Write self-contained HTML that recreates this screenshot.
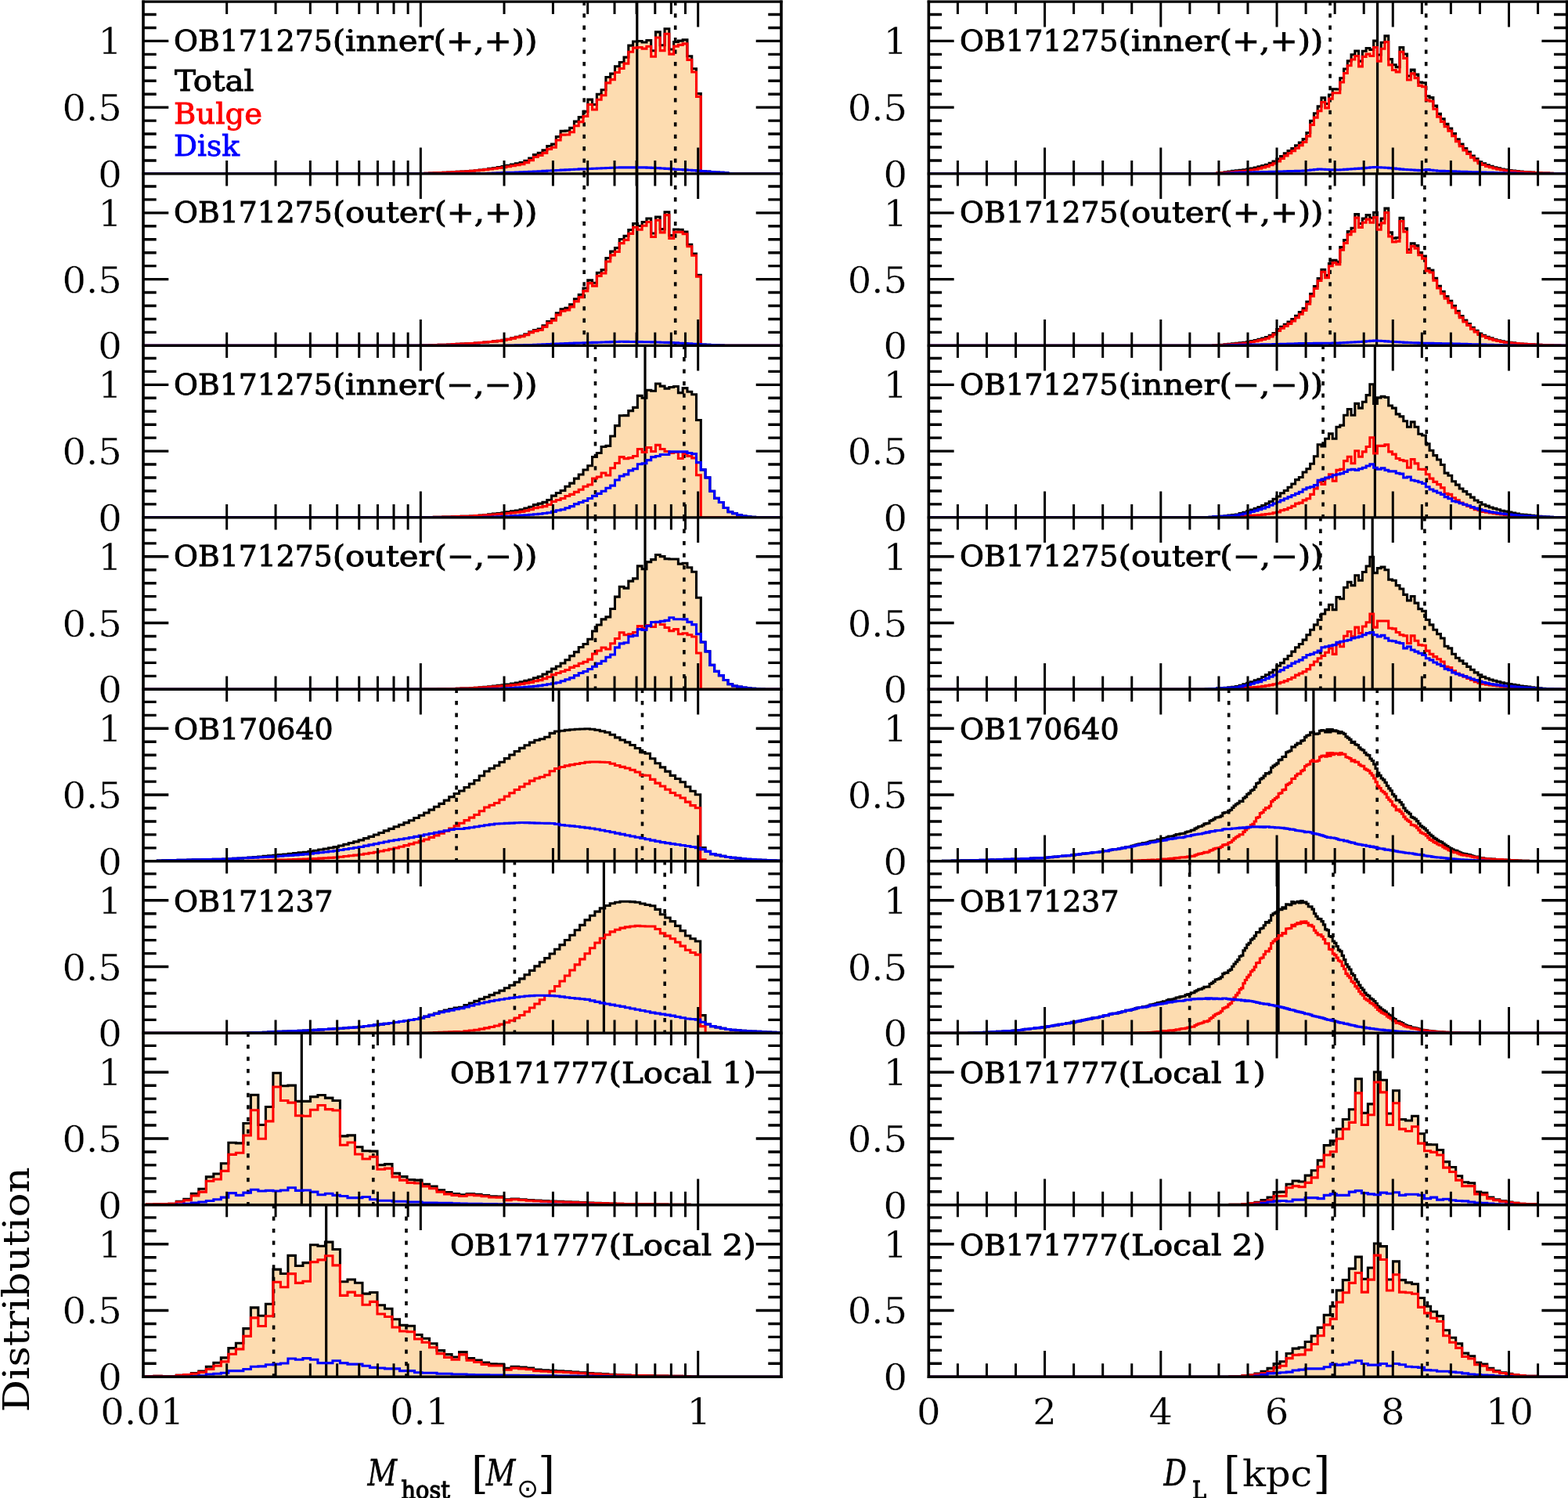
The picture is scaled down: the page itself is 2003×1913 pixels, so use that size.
<!DOCTYPE html>
<html lang="en">
<head>
<meta charset="utf-8">
<title>Posterior distributions of host mass and lens distance</title>
<style>
html,body{margin:0;padding:0;background:#fff}
body{width:2003px;height:1913px;overflow:hidden}
svg{display:block}
text{font-family:"DejaVu Serif","Liberation Serif",serif;fill:#000}
.lb{font-size:37.8px;stroke:#000;stroke-width:.9px}
.tk{font-size:46.6px;stroke:#fff;stroke-width:.3px;paint-order:fill stroke}
.ax{font-size:46px}
.it{font-style:italic;font-size:46px;stroke:#000;stroke-width:.5px;paint-order:normal}
.sb{font-size:31px;stroke:#000;stroke-width:1.3px;paint-order:normal}
.lr{fill:#f00;stroke:#f00}
.lu{fill:#00f;stroke:#00f}
.br{font-size:55.5px;stroke:none}
.sun{font-family:"DejaVu Sans","DejaVu Serif",sans-serif;font-size:33px;stroke:none}
.fr{fill:none;stroke:#000;stroke-width:3.4px;stroke-linecap:butt}
.tx{stroke-width:3px}
.fv{stroke-width:3.6px}
.h{fill:none;stroke-width:3.1px;stroke-linejoin:miter}
.k{stroke:#000}.r{stroke:#f00}.b{stroke:#00f}
.md{stroke:#000;stroke-width:3.2px;fill:none}
.dt{stroke:#000;stroke-width:3.6px;stroke-dasharray:5.3 10.15;stroke-dashoffset:.7;fill:none}
</style>
</head>
<body>
<svg width="2003" height="1913" viewBox="0 0 2003 1913" role="img" aria-label="Posterior distributions of host mass and lens distance">
<defs>
<clipPath id="c00"><rect x="183" y="2.4" width="815" height="219.48"/></clipPath>
<clipPath id="c01"><rect x="183" y="221.88" width="815" height="219.48"/></clipPath>
<clipPath id="c02"><rect x="183" y="441.36" width="815" height="219.48"/></clipPath>
<clipPath id="c03"><rect x="183" y="660.84" width="815" height="219.48"/></clipPath>
<clipPath id="c04"><rect x="183" y="880.32" width="815" height="219.48"/></clipPath>
<clipPath id="c05"><rect x="183" y="1099.8" width="815" height="219.48"/></clipPath>
<clipPath id="c06"><rect x="183" y="1319.28" width="815" height="219.48"/></clipPath>
<clipPath id="c07"><rect x="183" y="1538.76" width="815" height="219.48"/></clipPath>
<clipPath id="c10"><rect x="1186.35" y="2.4" width="815.35" height="219.48"/></clipPath>
<clipPath id="c11"><rect x="1186.35" y="221.88" width="815.35" height="219.48"/></clipPath>
<clipPath id="c12"><rect x="1186.35" y="441.36" width="815.35" height="219.48"/></clipPath>
<clipPath id="c13"><rect x="1186.35" y="660.84" width="815.35" height="219.48"/></clipPath>
<clipPath id="c14"><rect x="1186.35" y="880.32" width="815.35" height="219.48"/></clipPath>
<clipPath id="c15"><rect x="1186.35" y="1099.8" width="815.35" height="219.48"/></clipPath>
<clipPath id="c16"><rect x="1186.35" y="1319.28" width="815.35" height="219.48"/></clipPath>
<clipPath id="c17"><rect x="1186.35" y="1538.76" width="815.35" height="219.48"/></clipPath>
</defs>
<rect width="2003" height="1913" fill="#fff"/>
<g clip-path="url(#c00)">
<path d="M172.8 221.88V221.88H531.16V221.74H536.94V221.52H542.72V221.29H548.5V221.07H554.28V220.84H560.06V220.62H565.84V220.39H571.62V220.06H577.4V219.72H583.18V219.37H588.96V219.02H594.74V218.68H600.52V218.23H606.3V217.71H612.08V216.94H617.86V216.21H623.64V215.33H629.42V214.44H635.2V213.56H640.98V212.51H646.76V211.34H652.54V210.08H658.32V208.85H664.1V207.55H669.88V205.21H675.66V201.97H681.44V197.65H687.22V195.23H693V191.87H698.78V186.53H704.56V184.08H710.34V174.56H716.12V167.36H721.9V166.97H727.68V163.38H733.46V155.15H739.24V149.62H745.02V142.35H750.8V127.14H756.58V133.43H762.36V120.36H768.14V114.68H773.92V98.55H779.7V94.09H785.48V84.69H791.26V79.49H797.04V73.09H802.82V58.15H808.6V53.06H814.38V52.5H820.16V54.07H825.94V51.53H831.72V64.77H837.5V40.84H843.28V57.76H849.06V36.76H854.84V63.01H860.62V53.45H866.4V52.1H872.18V50.86H877.96V71.73H883.74V87.79H889.52V119.55H895.3V218.56H901.08V219.02H906.86V219.48H912.64V219.95H918.42V220.41H924.2V220.9H929.98V221.47H935.76V221.88H1005.12V221.88Z" fill="#fddcb0"/>
<path d="M746.2 2.4L746.2 221.88" class="dt"/>
<path d="M862.7 2.4L862.7 221.88" class="dt"/>
<path d="M813.8 2.4L813.8 221.88" class="md"/>
<path d="M172.8 221.88H531.16V221.74H536.94V221.52H542.72V221.29H548.5V221.07H554.28V220.84H560.06V220.62H565.84V220.39H571.62V220.06H577.4V219.72H583.18V219.37H588.96V219.02H594.74V218.68H600.52V218.23H606.3V217.71H612.08V216.94H617.86V216.21H623.64V215.33H629.42V214.44H635.2V213.56H640.98V212.51H646.76V211.34H652.54V210.08H658.32V208.85H664.1V207.55H669.88V205.21H675.66V201.97H681.44V197.65H687.22V195.23H693V191.87H698.78V186.53H704.56V184.08H710.34V174.56H716.12V167.36H721.9V166.97H727.68V163.38H733.46V155.15H739.24V149.62H745.02V142.35H750.8V127.14H756.58V133.43H762.36V120.36H768.14V114.68H773.92V98.55H779.7V94.09H785.48V84.69H791.26V79.49H797.04V73.09H802.82V58.15H808.6V53.06H814.38V52.5H820.16V54.07H825.94V51.53H831.72V64.77H837.5V40.84H843.28V57.76H849.06V36.76H854.84V63.01H860.62V53.45H866.4V52.1H872.18V50.86H877.96V71.73H883.74V87.79H889.52V119.55H895.3V218.56H901.08V219.02H906.86V219.48H912.64V219.95H918.42V220.41H924.2V220.9H929.98V221.47H935.76V221.88H1005.12" class="h k"/>
<path d="M172.8 221.88H531.16V221.74H536.94V221.52H542.72V221.29H548.5V221.07H554.28V220.84H560.06V220.62H565.84V220.39H571.62V220.06H577.4V219.72H583.18V219.37H588.96V219.02H594.74V218.68H600.52V218.23H606.3V217.71H612.08V217.19H617.86V216.65H623.64V215.96H629.42V215.27H635.2V214.57H640.98V213.75H646.76V212.8H652.54V211.77H658.32V210.77H664.1V209.71H669.88V207.6H675.66V204.59H681.44V200.53H687.22V198.42H693V195.37H698.78V190.34H704.56V188.2H710.34V178.99H716.12V172.1H721.9V172.02H727.68V168.73H733.46V160.81H739.24V155.59H745.02V148.55H750.8V133.56H756.58V140.07H762.36V127.22H768.14V121.77H773.92V105.89H779.7V101.66H785.48V92.51H791.26V87.52H797.04V81.12H802.82V66.18H808.6V61.09H814.38V60.53H820.16V62.1H825.94V59.32H831.72V72.27H837.5V48.06H843.28V64.65H849.06V43.25H854.84V69.09H860.62V59.12H866.4V57.42H872.18V55.83H877.96V76.36H883.74V92.04H889.52V123.33H895.3V221.88H1005.12" class="h r"/>
<path d="M172.8 221.88H612.08V221.63H617.86V221.44H623.64V221.25H629.42V221.05H635.2V220.86H640.98V220.65H646.76V220.42H652.54V220.19H658.32V219.95H664.1V219.72H669.88V219.49H675.66V219.26H681.44V218.99H687.22V218.68H693V218.38H698.78V218.07H704.56V217.76H710.34V217.45H716.12V217.14H721.9V216.83H727.68V216.53H733.46V216.22H739.24V215.91H745.02V215.68H750.8V215.46H756.58V215.24H762.36V215.01H768.14V214.78H773.92V214.54H779.7V214.3H785.48V214.06H791.26V213.85H825.94V214.09H831.72V214.38H837.5V214.67H843.28V214.99H849.06V215.4H854.84V215.8H860.62V216.21H866.4V216.56H872.18V216.91H877.96V217.26H883.74V217.64H889.52V218.1H895.3V218.56H901.08V219.02H906.86V219.48H912.64V219.95H918.42V220.41H924.2V220.9H929.98V221.47H935.76V221.88H1005.12" class="h b"/>
</g>
<g clip-path="url(#c01)">
<path d="M172.8 441.36V441.36H531.16V441.32H536.94V441.13H542.72V440.94H548.5V440.75H554.28V440.56H560.06V440.38H565.84V440.19H571.62V439.93H577.4V439.66H583.18V439.39H588.96V439.12H594.74V438.85H600.52V438.46H606.3V438H612.08V437.54H617.86V437.07H623.64V436.49H629.42V435.91H635.2V435.34H640.98V434.41H646.76V433.19H652.54V431.8H658.32V430.28H664.1V429.07H669.88V426.82H675.66V423.71H681.44V421.5H687.22V420.09H693V415.84H698.78V410.54H704.56V407.23H710.34V399.85H716.12V394.68H721.9V393.34H727.68V388.87H733.46V381.69H739.24V376.22H745.02V368.04H750.8V357.86H756.58V361.21H762.36V348.21H768.14V344.61H773.92V329.5H779.7V321.13H785.48V316.59H791.26V305.53H797.04V301.39H802.82V293.5H808.6V285.48H814.38V288.43H820.16V283.52H825.94V278.94H831.72V297.99H837.5V276.95H843.28V292.67H849.06V270.71H854.84V300.67H860.62V292.93H866.4V293.22H872.18V295.93H877.96V312.22H883.74V324.12H889.52V351.37H895.3V439.93H901.08V440.27H906.86V440.57H912.64V440.86H918.42V441.14H924.2V441.36H1005.12V441.36Z" fill="#fddcb0"/>
<path d="M746.2 221.88L746.2 441.36" class="dt"/>
<path d="M862.7 221.88L862.7 441.36" class="dt"/>
<path d="M813.8 221.88L813.8 441.36" class="md"/>
<path d="M172.8 441.36H531.16V441.32H536.94V441.13H542.72V440.94H548.5V440.75H554.28V440.56H560.06V440.38H565.84V440.19H571.62V439.93H577.4V439.66H583.18V439.39H588.96V439.12H594.74V438.85H600.52V438.46H606.3V438H612.08V437.54H617.86V437.07H623.64V436.49H629.42V435.91H635.2V435.34H640.98V434.41H646.76V433.19H652.54V431.8H658.32V430.28H664.1V429.07H669.88V426.82H675.66V423.71H681.44V421.5H687.22V420.09H693V415.84H698.78V410.54H704.56V407.23H710.34V399.85H716.12V394.68H721.9V393.34H727.68V388.87H733.46V381.69H739.24V376.22H745.02V368.04H750.8V357.86H756.58V361.21H762.36V348.21H768.14V344.61H773.92V329.5H779.7V321.13H785.48V316.59H791.26V305.53H797.04V301.39H802.82V293.5H808.6V285.48H814.38V288.43H820.16V283.52H825.94V278.94H831.72V297.99H837.5V276.95H843.28V292.67H849.06V270.71H854.84V300.67H860.62V292.93H866.4V293.22H872.18V295.93H877.96V312.22H883.74V324.12H889.52V351.37H895.3V439.93H901.08V440.27H906.86V440.57H912.64V440.86H918.42V441.14H924.2V441.36H1005.12" class="h k"/>
<path d="M172.8 441.36H531.16V441.32H536.94V441.13H542.72V440.94H548.5V440.75H554.28V440.56H560.06V440.38H565.84V440.19H571.62V439.93H577.4V439.66H583.18V439.39H588.96V439.12H594.74V438.85H600.52V438.46H606.3V438H612.08V437.54H617.86V437.07H623.64V436.49H629.42V435.91H635.2V435.34H640.98V434.49H646.76V433.41H652.54V432.16H658.32V430.77H664.1V429.71H669.88V427.6H675.66V424.63H681.44V422.61H687.22V421.43H693V417.41H698.78V412.34H704.56V409.26H710.34V402.11H716.12V397.18H721.9V396.07H727.68V391.83H733.46V384.88H739.24V379.64H745.02V371.64H750.8V361.64H756.58V365.17H762.36V352.34H768.14V348.93H773.92V334.01H779.7V325.83H785.48V321.49H791.26V310.59H797.04V306.37H802.82V298.4H808.6V290.31H814.38V293.18H820.16V288.2H825.94V283.51H831.72V302.44H837.5V281.28H843.28V296.85H849.06V274.66H854.84V304.39H860.62V296.42H866.4V296.39H872.18V298.74H877.96V314.69H883.74V326.24H889.52V353.15H895.3V441.36H1005.12" class="h r"/>
<path d="M172.8 441.36H640.98V441.28H646.76V441.14H652.54V441H658.32V440.86H664.1V440.72H669.88V440.58H675.66V440.44H681.44V440.25H687.22V440.02H693V439.79H698.78V439.56H704.56V439.33H710.34V439.1H716.12V438.86H721.9V438.63H727.68V438.4H733.46V438.17H739.24V437.94H745.02V437.76H750.8V437.58H756.58V437.4H762.36V437.22H768.14V437.04H773.92V436.85H779.7V436.66H785.48V436.46H791.26V436.3H797.04V436.38H802.82V436.46H808.6V436.53H814.38V436.61H820.16V436.69H825.94V436.8H831.72V436.91H837.5V437.03H843.28V437.18H849.06V437.41H854.84V437.64H860.62V437.87H866.4V438.19H872.18V438.54H877.96V438.89H883.74V439.23H889.52V439.58H895.3V439.93H901.08V440.27H906.86V440.57H912.64V440.86H918.42V441.14H924.2V441.36H1005.12" class="h b"/>
</g>
<g clip-path="url(#c02)">
<path d="M172.8 660.84V660.84H531.16V660.75H536.94V660.66H542.72V660.56H548.5V660.46H554.28V660.37H560.06V660.27H565.84V660.17H571.62V659.99H577.4V659.8H583.18V659.61H588.96V659.42H594.74V659.22H600.52V658.94H606.3V658.59H612.08V658.02H617.86V657.47H623.64V656.82H629.42V656.16H635.2V655.51H640.98V654.73H646.76V653.84H652.54V652.88H658.32V651.93H664.1V650.68H669.88V649.03H675.66V647.2H681.44V644.66H687.22V643.11H693V641.37H698.78V638.48H704.56V633.14H710.34V629.45H716.12V626.43H721.9V621.3H727.68V617.1H733.46V611.13H739.24V605.94H745.02V599.97H750.8V594.68H756.58V583.55H762.36V578.52H768.14V570.46H773.92V569.41H779.7V557H785.48V543.6H791.26V530.77H797.04V530.63H802.82V524.65H808.6V520.36H814.38V505.39H820.16V508.3H825.94V498.2H831.72V499.2H837.5V490.07H843.28V493.16H849.06V496.14H854.84V494.5H860.62V493.5H866.4V501.6H872.18V495.63H877.96V500.21H883.74V503.68H889.52V536.57H895.3V599.92H901.08V609.88H906.86V627.29H912.64V636.3H918.42V641.56H924.2V648.51H929.98V653.74H935.76V655.8H941.54V657.73H947.32V658.97H953.1V659.89H958.88V660.39H964.66V660.84H1005.12V660.84Z" fill="#fddcb0"/>
<path d="M760.5 441.36L760.5 660.84" class="dt"/>
<path d="M873.9 441.36L873.9 660.84" class="dt"/>
<path d="M824 441.36L824 660.84" class="md"/>
<path d="M172.8 660.84H531.16V660.75H536.94V660.66H542.72V660.56H548.5V660.46H554.28V660.37H560.06V660.27H565.84V660.17H571.62V659.99H577.4V659.8H583.18V659.61H588.96V659.42H594.74V659.22H600.52V658.94H606.3V658.59H612.08V658.02H617.86V657.47H623.64V656.82H629.42V656.16H635.2V655.51H640.98V654.73H646.76V653.84H652.54V652.88H658.32V651.93H664.1V650.68H669.88V649.03H675.66V647.2H681.44V644.66H687.22V643.11H693V641.37H698.78V638.48H704.56V633.14H710.34V629.45H716.12V626.43H721.9V621.3H727.68V617.1H733.46V611.13H739.24V605.94H745.02V599.97H750.8V594.68H756.58V583.55H762.36V578.52H768.14V570.46H773.92V569.41H779.7V557H785.48V543.6H791.26V530.77H797.04V530.63H802.82V524.65H808.6V520.36H814.38V505.39H820.16V508.3H825.94V498.2H831.72V499.2H837.5V490.07H843.28V493.16H849.06V496.14H854.84V494.5H860.62V493.5H866.4V501.6H872.18V495.63H877.96V500.21H883.74V503.68H889.52V536.57H895.3V599.92H901.08V609.88H906.86V627.29H912.64V636.3H918.42V641.56H924.2V648.51H929.98V653.74H935.76V655.8H941.54V657.73H947.32V658.97H953.1V659.89H958.88V660.39H964.66V660.84H1005.12" class="h k"/>
<path d="M172.8 660.84H531.16V660.75H536.94V660.66H542.72V660.56H548.5V660.46H554.28V660.37H560.06V660.27H565.84V660.17H571.62V659.99H577.4V659.8H583.18V659.61H588.96V659.42H594.74V659.22H600.52V658.94H606.3V658.59H612.08V658.25H617.86V657.89H623.64V657.43H629.42V656.97H635.2V656.5H640.98V656H646.76V655.46H652.54V654.84H658.32V654.24H664.1V653.4H669.88V652.16H675.66V650.74H681.44V648.72H687.22V647.69H693V646.66H698.78V644.52H704.56V640.57H710.34V638.51H716.12V636.5H721.9V633.43H727.68V631.33H733.46V628.34H739.24V625.22H745.02V621.25H750.8V619.05H756.58V611.01H762.36V608.97H768.14V604.03H773.92V606.96H779.7V597.73H785.48V591.48H791.26V583.6H797.04V585.6H802.82V584.6H808.6V582.43H814.38V573.51H820.16V577.44H825.94V571.46H831.72V576.44H837.5V568.37H843.28V573.47H849.06V576.46H854.84V578.48H860.62V577.48H866.4V585.57H872.18V579.57H877.96V582.56H883.74V584.88H889.52V606.8H895.3V660.84H1005.12" class="h r"/>
<path d="M172.8 660.84H612.08V660.61H617.86V660.42H623.64V660.23H629.42V660.04H635.2V659.84H640.98V659.57H646.76V659.22H652.54V658.87H658.32V658.53H664.1V658.12H669.88V657.71H675.66V657.3H681.44V656.78H687.22V656.26H693V655.55H698.78V654.81H704.56V653.41H710.34V651.78H716.12V650.77H721.9V648.71H727.68V646.61H733.46V643.63H739.24V641.57H745.02V639.57H750.8V636.47H756.58V633.38H762.36V630.39H768.14V627.27H773.92V623.28H779.7V620.11H785.48V612.96H791.26V608H797.04V605.87H802.82V600.89H808.6V598.77H814.38V592.72H820.16V591.71H825.94V587.58H831.72V583.59H837.5V582.54H843.28V580.53H849.06V580.52H854.84V576.86H872.18V576.9H877.96V578.49H883.74V579.65H889.52V590.61H895.3V599.92H901.08V609.88H906.86V627.29H912.64V636.3H918.42V641.56H924.2V648.51H929.98V653.74H935.76V655.8H941.54V657.73H947.32V658.97H953.1V659.89H958.88V660.39H964.66V660.84H1005.12" class="h b"/>
</g>
<g clip-path="url(#c03)">
<path d="M172.8 880.32V880.32H531.16V880.29H536.94V880.2H542.72V880.11H548.5V880.03H554.28V879.94H560.06V879.85H565.84V879.77H571.62V879.62H577.4V879.47H583.18V879.31H588.96V879.16H594.74V879H600.52V878.74H606.3V878.39H612.08V877.88H617.86V877.34H623.64V876.7H629.42V876.06H635.2V875.41H640.98V874.71H646.76V873.95H652.54V872.99H658.32V872.04H664.1V870.8H669.88V869.36H675.66V867.94H681.44V865.69H687.22V863.97H693V861.06H698.78V858.05H704.56V854.08H710.34V850.95H716.12V846.96H721.9V842.81H727.68V837.65H733.46V832.65H739.24V826.52H745.02V822.52H750.8V816.24H756.58V806H762.36V798.04H768.14V790.92H773.92V787.9H779.7V777.48H785.48V762.08H791.26V749.27H797.04V751.08H802.82V742.12H808.6V738.83H814.38V722.89H820.16V726.79H825.94V717.63H831.72V714.64H837.5V708.54H843.28V710.63H849.06V713.61H854.84V714.02H866.4V720.12H872.18V719.23H877.96V724.81H883.74V730.31H889.52V763.2H895.3V819.93H901.08V831.88H906.86V849.33H912.64V857.35H918.42V862.58H924.2V868.55H929.98V873.74H935.76V875.99H941.54V877.08H947.32V878.11H953.1V878.69H958.88V879.27H964.66V879.69H970.44V880.07H976.22V880.32H1005.12V880.32Z" fill="#fddcb0"/>
<path d="M760.5 660.84L760.5 880.32" class="dt"/>
<path d="M873.9 660.84L873.9 880.32" class="dt"/>
<path d="M824 660.84L824 880.32" class="md"/>
<path d="M172.8 880.32H531.16V880.29H536.94V880.2H542.72V880.11H548.5V880.03H554.28V879.94H560.06V879.85H565.84V879.77H571.62V879.62H577.4V879.47H583.18V879.31H588.96V879.16H594.74V879H600.52V878.74H606.3V878.39H612.08V877.88H617.86V877.34H623.64V876.7H629.42V876.06H635.2V875.41H640.98V874.71H646.76V873.95H652.54V872.99H658.32V872.04H664.1V870.8H669.88V869.36H675.66V867.94H681.44V865.69H687.22V863.97H693V861.06H698.78V858.05H704.56V854.08H710.34V850.95H716.12V846.96H721.9V842.81H727.68V837.65H733.46V832.65H739.24V826.52H745.02V822.52H750.8V816.24H756.58V806H762.36V798.04H768.14V790.92H773.92V787.9H779.7V777.48H785.48V762.08H791.26V749.27H797.04V751.08H802.82V742.12H808.6V738.83H814.38V722.89H820.16V726.79H825.94V717.63H831.72V714.64H837.5V708.54H843.28V710.63H849.06V713.61H854.84V714.02H866.4V720.12H872.18V719.23H877.96V724.81H883.74V730.31H889.52V763.2H895.3V819.93H901.08V831.88H906.86V849.33H912.64V857.35H918.42V862.58H924.2V868.55H929.98V873.74H935.76V875.99H941.54V877.08H947.32V878.11H953.1V878.69H958.88V879.27H964.66V879.69H970.44V880.07H976.22V880.32H1005.12" class="h k"/>
<path d="M172.8 880.32H531.16V880.29H536.94V880.2H542.72V880.11H548.5V880.03H554.28V879.94H560.06V879.85H565.84V879.77H571.62V879.62H577.4V879.47H583.18V879.31H588.96V879.16H594.74V879H600.52V878.74H606.3V878.39H612.08V878.04H617.86V877.69H623.64V877.23H629.42V876.76H635.2V876.3H640.98V875.87H646.76V875.46H652.54V874.84H658.32V874.24H664.1V873.41H669.88V872.38H675.66V871.37H681.44V869.74H687.22V868.66H693V866.66H698.78V864.56H704.56V861.59H710.34V859.53H716.12V857.53H721.9V855.44H727.68V852.39H733.46V850.38H739.24V847.31H745.02V845.31H750.8V842.12H756.58V835.01H762.36V831.02H768.14V827.06H773.92V829.01H779.7V821.8H785.48V815.55H791.26V807.69H797.04V810.69H802.82V809.69H808.6V807.54H814.38V799.6H820.16V802.54H825.94V798.53H831.72V800.52H837.5V794.45H843.28V797.57H849.06V801.56H854.84V805.59H860.62V803.6H866.4V809.69H872.18V808.72H877.96V810.71H883.74V813.01H889.52V833.94H895.3V880.32H1005.12" class="h r"/>
<path d="M172.8 880.32H612.08V880.16H617.86V879.97H623.64V879.79H629.42V879.61H635.2V879.43H640.98V879.16H646.76V878.81H652.54V878.47H658.32V878.12H664.1V877.71H669.88V877.3H675.66V876.89H681.44V876.27H687.22V875.64H693V874.72H698.78V873.81H704.56V872.81H710.34V871.75H716.12V869.75H721.9V867.69H727.68V865.59H733.46V862.6H739.24V859.53H745.02V857.53H750.8V854.43H756.58V851.31H762.36V847.33H768.14V844.18H773.92V839.21H779.7V836H785.48V826.85H791.26V821.9H797.04V820.71H802.82V812.75H808.6V811.61H814.38V803.61H820.16V804.57H825.94V799.41H831.72V794.43H837.5V794.41H843.28V793.38H849.06V792.37H854.84V788.75H860.62V790.74H866.4V790.75H872.18V790.83H877.96V794.42H883.74V797.62H889.52V809.58H895.3V819.93H901.08V831.88H906.86V849.33H912.64V857.35H918.42V862.58H924.2V868.55H929.98V873.74H935.76V875.99H941.54V877.08H947.32V878.11H953.1V878.69H958.88V879.27H964.66V879.69H970.44V880.07H976.22V880.32H1005.12" class="h b"/>
</g>
<g clip-path="url(#c04)">
<path d="M175.66 1099.8V1099.8H194.92V1099.48H201.34V1099.1H207.76V1098.75H214.18V1098.61H220.6V1098.47H227.02V1098.33H233.44V1098.18H239.86V1098.04H246.28V1097.9H252.7V1097.76H259.12V1097.61H265.54V1097.47H271.96V1097.33H278.38V1097.18H284.8V1097.01H291.22V1096.69H297.64V1096.37H304.06V1096.05H310.48V1095.55H316.9V1095.01H323.32V1094.47H329.74V1093.93H336.16V1093.39H342.58V1092.85H349V1092.29H355.42V1091.61H361.84V1090.94H368.26V1090.27H374.68V1089.59H381.1V1088.92H387.52V1088.24H393.94V1087.34H400.36V1086.2H406.78V1085.07H413.2V1083.94H419.62V1082.8H426.04V1081.67H432.46V1080.03H438.88V1078.3H445.3V1076.57H451.72V1074.85H458.14V1072.85H464.56V1070.6H470.98V1068.35H477.4V1066.05H483.82V1063.48H490.24V1060.91H496.66V1058.34H503.08V1055.77H509.5V1053.21H515.92V1050.64H522.34V1047.73H528.76V1044.52H535.18V1041.31H541.6V1037.98H548.02V1034.13H554.44V1030.27H560.86V1026.42H567.28V1022.08H573.7V1017.67H580.12V1013.45H586.54V1009.99H592.96V1005.5H599.38V1000.97H605.8V996.45H612.22V990.71H618.64V984.94H625.06V981.22H631.48V977.77H637.9V973.23H644.32V968.63H650.74V964.03H657.16V959.43H663.58V955.34H670V951.8H676.42V948.16H682.84V945.21H689.26V943.73H695.68V941.22H702.1V936.36H708.52V934.04H714.94V933.3H721.36V932.36H727.78V931.74H734.2V931.31H740.62V931.01H747.04V930.77H753.46V931.23H759.88V932.2H766.3V933.69H772.72V935.3H779.14V938.22H785.56V941.86H791.98V945.01H798.4V947.9H804.82V951.48H811.24V955.44H817.66V960.67H824.08V962.27H830.5V968.69H836.92V974.72H843.34V979.85H849.76V985.1H856.18V990.34H862.6V994.52H869.02V998.7H875.44V1004.78H881.86V1010.25H888.28V1014.74H894.7V1082.55H901.12V1087.42H907.54V1090.63H913.96V1091.93H920.38V1093.21H926.8V1094.49H933.22V1095.35H939.64V1096H946.06V1096.64H952.48V1097.19H958.9V1097.58H965.32V1097.96H971.74V1098.35H978.16V1098.61H984.58V1098.86H991V1099.12H997.42V1099.4H1003.84V1099.7H1010.26V1099.8Z" fill="#fddcb0"/>
<path d="M583.1 880.32L583.1 1099.8" class="dt"/>
<path d="M820.5 880.32L820.5 1099.8" class="dt"/>
<path d="M714 880.32L714 1099.8" class="md"/>
<path d="M175.66 1099.8H194.92V1099.48H201.34V1099.1H207.76V1098.75H214.18V1098.61H220.6V1098.47H227.02V1098.33H233.44V1098.18H239.86V1098.04H246.28V1097.9H252.7V1097.76H259.12V1097.61H265.54V1097.47H271.96V1097.33H278.38V1097.18H284.8V1097.01H291.22V1096.69H297.64V1096.37H304.06V1096.05H310.48V1095.55H316.9V1095.01H323.32V1094.47H329.74V1093.93H336.16V1093.39H342.58V1092.85H349V1092.29H355.42V1091.61H361.84V1090.94H368.26V1090.27H374.68V1089.59H381.1V1088.92H387.52V1088.24H393.94V1087.34H400.36V1086.2H406.78V1085.07H413.2V1083.94H419.62V1082.8H426.04V1081.67H432.46V1080.03H438.88V1078.3H445.3V1076.57H451.72V1074.85H458.14V1072.85H464.56V1070.6H470.98V1068.35H477.4V1066.05H483.82V1063.48H490.24V1060.91H496.66V1058.34H503.08V1055.77H509.5V1053.21H515.92V1050.64H522.34V1047.73H528.76V1044.52H535.18V1041.31H541.6V1037.98H548.02V1034.13H554.44V1030.27H560.86V1026.42H567.28V1022.08H573.7V1017.67H580.12V1013.45H586.54V1009.99H592.96V1005.5H599.38V1000.97H605.8V996.45H612.22V990.71H618.64V984.94H625.06V981.22H631.48V977.77H637.9V973.23H644.32V968.63H650.74V964.03H657.16V959.43H663.58V955.34H670V951.8H676.42V948.16H682.84V945.21H689.26V943.73H695.68V941.22H702.1V936.36H708.52V934.04H714.94V933.3H721.36V932.36H727.78V931.74H734.2V931.31H740.62V931.01H747.04V930.77H753.46V931.23H759.88V932.2H766.3V933.69H772.72V935.3H779.14V938.22H785.56V941.86H791.98V945.01H798.4V947.9H804.82V951.48H811.24V955.44H817.66V960.67H824.08V962.27H830.5V968.69H836.92V974.72H843.34V979.85H849.76V985.1H856.18V990.34H862.6V994.52H869.02V998.7H875.44V1004.78H881.86V1010.25H888.28V1014.74H894.7V1082.55H901.12V1087.42H907.54V1090.63H913.96V1091.93H920.38V1093.21H926.8V1094.49H933.22V1095.35H939.64V1096H946.06V1096.64H952.48V1097.19H958.9V1097.58H965.32V1097.96H971.74V1098.35H978.16V1098.61H984.58V1098.86H991V1099.12H997.42V1099.4H1003.84V1099.7H1010.26" class="h k"/>
<path d="M175.66 1099.8H310.48V1099.62H316.9V1099.4H323.32V1099.18H329.74V1098.96H336.16V1098.75H342.58V1098.53H349V1098.32H355.42V1098.12H361.84V1097.93H368.26V1097.74H374.68V1097.54H381.1V1097.35H387.52V1097.16H393.94V1096.87H400.36V1096.49H406.78V1096.12H413.2V1095.74H419.62V1095.36H426.04V1094.98H432.46V1094.3H438.88V1093.56H445.3V1092.82H451.72V1092.08H458.14V1091.22H464.56V1090.26H470.98V1089.29H477.4V1088.27H483.82V1086.99H490.24V1085.7H496.66V1084.42H503.08V1082.86H509.5V1081.25H515.92V1079.65H522.34V1077.87H528.76V1075.95H535.18V1074.02H541.6V1071.97H548.02V1069.4H554.44V1066.84H560.86V1064.27H567.28V1061.15H573.7V1057.94H580.12V1054.68H586.54V1051.22H592.96V1047.66H599.38V1044.09H605.8V1040.53H612.22V1035.76H618.64V1030.94H625.06V1028.19H631.48V1025.52H637.9V1021.29H644.32V1017.01H650.74V1012.73H657.16V1008.45H663.58V1004.69H670V1000.94H676.42V997.09H682.84V993.93H689.26V992.32H695.68V989.68H702.1V984.69H708.52V981.5H714.94V979.49H721.36V977.88H727.78V976.62H734.2V975.55H740.62V974.48H747.04V973.41H753.46V973.03H766.3V973.24H772.72V973.56H779.14V975.19H785.56V977.55H791.98V979.42H798.4V981.02H804.82V983.32H811.24V986H817.66V989.94H824.08V990.25H830.5V995.4H836.92V1000.14H843.34V1003.99H849.76V1008.26H856.18V1012.54H862.6V1015.77H869.02V1018.98H875.44V1024.09H881.86V1028.6H888.28V1031.81H894.7V1097.7H901.12V1099.8H1010.26" class="h r"/>
<path d="M175.66 1099.8H194.92V1099.48H201.34V1099.1H207.76V1098.75H214.18V1098.61H220.6V1098.47H227.02V1098.33H233.44V1098.18H239.86V1098.04H246.28V1097.9H252.7V1097.76H259.12V1097.61H265.54V1097.47H271.96V1097.33H278.38V1097.18H284.8V1097.01H291.22V1096.69H297.64V1096.37H304.06V1096.05H310.48V1095.73H316.9V1095.41H323.32V1095.09H329.74V1094.76H336.16V1094.44H342.58V1094.12H349V1093.77H355.42V1093.29H361.84V1092.81H368.26V1092.33H374.68V1091.85H381.1V1091.37H387.52V1090.88H393.94V1090.26H400.36V1089.51H406.78V1088.75H413.2V1088H419.62V1087.24H426.04V1086.49H432.46V1085.53H438.88V1084.55H445.3V1083.56H451.72V1082.57H458.14V1081.43H464.56V1080.14H470.98V1078.86H477.4V1077.58H483.82V1076.29H490.24V1075.01H496.66V1073.72H503.08V1072.72H509.5V1071.75H515.92V1070.79H522.34V1069.66H528.76V1068.37H535.18V1067.09H541.6V1065.81H548.02V1064.52H554.44V1063.24H560.86V1061.95H567.28V1060.74H573.7V1059.54H580.12V1058.57H592.96V1057.65H599.38V1056.68H605.8V1055.72H612.22V1054.76H618.64V1053.79H625.06V1052.83H631.48V1052.06H637.9V1051.74H644.32V1051.42H650.74V1051.1H657.16V1050.78H663.58V1050.45H670V1050.65H676.42V1050.87H682.84V1051.08H689.26V1051.21H695.68V1051.34H702.1V1051.47H708.52V1052.34H714.94V1053.62H721.36V1054.28H727.78V1054.92H734.2V1055.56H740.62V1056.33H747.04V1057.16H753.46V1058H759.88V1058.97H766.3V1060.26H772.72V1061.54H779.14V1062.82H785.56V1064.11H791.98V1065.39H798.4V1066.68H804.82V1067.96H811.24V1069.24H817.66V1070.53H824.08V1071.81H830.5V1073.1H836.92V1074.38H843.34V1075.66H849.76V1076.63H856.18V1077.59H862.6V1078.56H869.02V1079.52H875.44V1080.48H881.86V1081.45H888.28V1082.72H894.7V1084.65H901.12V1087.42H907.54V1090.63H913.96V1091.93H920.38V1093.21H926.8V1094.49H933.22V1095.35H939.64V1096H946.06V1096.64H952.48V1097.19H958.9V1097.58H965.32V1097.96H971.74V1098.35H978.16V1098.61H984.58V1098.86H991V1099.12H997.42V1099.4H1003.84V1099.7H1010.26" class="h b"/>
</g>
<g clip-path="url(#c05)">
<path d="M175.66 1319.28V1319.28H310.48V1319.1H316.9V1318.88H323.32V1318.67H329.74V1318.43H336.16V1318.18H342.58V1317.92H349V1317.66H355.42V1317.41H361.84V1317.15H368.26V1316.89H374.68V1316.64H381.1V1316.38H387.52V1316.12H393.94V1315.78H400.36V1315.35H406.78V1314.92H413.2V1314.49H419.62V1314.07H426.04V1313.64H432.46V1313.21H438.88V1312.78H445.3V1312.35H451.72V1311.93H458.14V1311.3H464.56V1310.5H470.98V1309.7H477.4V1308.9H483.82V1308.09H490.24V1307.29H496.66V1306.49H503.08V1305.51H509.5V1304.51H515.92V1303.51H522.34V1302.5H528.76V1301.5H535.18V1300.06H541.6V1298.17H548.02V1296.06H554.44V1293.94H560.86V1291.83H567.28V1290.15H573.7V1288.55H580.12V1286.94H586.54V1286.19H592.96V1283.67H599.38V1281.03H605.8V1278.4H612.22V1275.81H618.64V1273.24H625.06V1270.67H631.48V1268.01H637.9V1265.12H644.32V1261.82H650.74V1258.29H657.16V1254.3H663.58V1249.9H670V1244.72H676.42V1239.42H682.84V1233.88H689.26V1228.72H695.68V1223.58H702.1V1218H708.52V1212.2H714.94V1206.64H721.36V1200.45H727.78V1194.18H734.2V1187.76H740.62V1181.34H747.04V1174.92H753.46V1169.31H759.88V1164.13H766.3V1159.83H772.72V1156.52H779.14V1153.76H785.56V1152.26H791.98V1151.25H804.82V1151.67H811.24V1152.31H817.66V1153.96H824.08V1155.51H830.5V1156.79H836.92V1161.39H843.34V1167.75H849.76V1171.95H856.18V1176.64H862.6V1182.41H869.02V1188.61H875.44V1195.03H881.86V1198.8H888.28V1201.94H894.7V1296.65H901.12V1308.07H907.54V1310.64H913.96V1311.93H920.38V1313.21H926.8V1314.49H933.22V1315.27H939.64V1315.78H946.06V1316.3H952.48V1316.74H958.9V1317.07H965.32V1317.39H971.74V1317.71H978.16V1317.96H984.58V1318.22H991V1318.48H997.42V1318.8H1003.84V1319.16H1010.26V1319.28Z" fill="#fddcb0"/>
<path d="M657.4 1099.8L657.4 1319.28" class="dt"/>
<path d="M849.2 1099.8L849.2 1319.28" class="dt"/>
<path d="M771.4 1099.8L771.4 1319.28" class="md"/>
<path d="M175.66 1319.28H310.48V1319.1H316.9V1318.88H323.32V1318.67H329.74V1318.43H336.16V1318.18H342.58V1317.92H349V1317.66H355.42V1317.41H361.84V1317.15H368.26V1316.89H374.68V1316.64H381.1V1316.38H387.52V1316.12H393.94V1315.78H400.36V1315.35H406.78V1314.92H413.2V1314.49H419.62V1314.07H426.04V1313.64H432.46V1313.21H438.88V1312.78H445.3V1312.35H451.72V1311.93H458.14V1311.3H464.56V1310.5H470.98V1309.7H477.4V1308.9H483.82V1308.09H490.24V1307.29H496.66V1306.49H503.08V1305.51H509.5V1304.51H515.92V1303.51H522.34V1302.5H528.76V1301.5H535.18V1300.06H541.6V1298.17H548.02V1296.06H554.44V1293.94H560.86V1291.83H567.28V1290.15H573.7V1288.55H580.12V1286.94H586.54V1286.19H592.96V1283.67H599.38V1281.03H605.8V1278.4H612.22V1275.81H618.64V1273.24H625.06V1270.67H631.48V1268.01H637.9V1265.12H644.32V1261.82H650.74V1258.29H657.16V1254.3H663.58V1249.9H670V1244.72H676.42V1239.42H682.84V1233.88H689.26V1228.72H695.68V1223.58H702.1V1218H708.52V1212.2H714.94V1206.64H721.36V1200.45H727.78V1194.18H734.2V1187.76H740.62V1181.34H747.04V1174.92H753.46V1169.31H759.88V1164.13H766.3V1159.83H772.72V1156.52H779.14V1153.76H785.56V1152.26H791.98V1151.25H804.82V1151.67H811.24V1152.31H817.66V1153.96H824.08V1155.51H830.5V1156.79H836.92V1161.39H843.34V1167.75H849.76V1171.95H856.18V1176.64H862.6V1182.41H869.02V1188.61H875.44V1195.03H881.86V1198.8H888.28V1201.94H894.7V1296.65H901.12V1308.07H907.54V1310.64H913.96V1311.93H920.38V1313.21H926.8V1314.49H933.22V1315.27H939.64V1315.78H946.06V1316.3H952.48V1316.74H958.9V1317.07H965.32V1317.39H971.74V1317.71H978.16V1317.96H984.58V1318.22H991V1318.48H997.42V1318.8H1003.84V1319.16H1010.26" class="h k"/>
<path d="M175.66 1319.28H541.6V1319.23H548.02V1318.95H554.44V1318.67H560.86V1318.39H567.28V1318.07H573.7V1317.75H580.12V1317.43H586.54V1317.68H592.96V1316.91H599.38V1316.07H605.8V1315.24H612.22V1314.12H618.64V1312.83H625.06V1311.55H631.48V1310.07H637.9V1308.15H644.32V1305.82H650.74V1303.25H657.16V1300.06H663.58V1296.46H670V1291.97H676.42V1287.06H682.84V1281.93H689.26V1276.79H695.68V1271.46H702.1V1265.68H708.52V1259.49H714.94V1253.07H721.36V1246.03H727.78V1238.97H734.2V1231.9H740.62V1224.84H747.04V1217.78H753.46V1210.72H759.88V1204.06H766.3V1198.28H772.72V1193.75H779.14V1189.89H785.56V1187.3H791.98V1185.14H798.4V1183.85H804.82V1182.99H811.24V1182.35H817.66V1182.71H824.08V1182.98H836.92V1186.5H843.34V1191.89H849.76V1195.13H856.18V1198.75H862.6V1203.25H869.02V1208.16H875.44V1213.3H881.86V1216.53H888.28V1219.13H894.7V1310.65H901.12V1319.28H1010.26" class="h r"/>
<path d="M175.66 1319.28H310.48V1319.1H316.9V1318.88H323.32V1318.67H329.74V1318.43H336.16V1318.18H342.58V1317.92H349V1317.66H355.42V1317.41H361.84V1317.15H368.26V1316.89H374.68V1316.64H381.1V1316.38H387.52V1316.12H393.94V1315.78H400.36V1315.35H406.78V1314.92H413.2V1314.49H419.62V1314.07H426.04V1313.64H432.46V1313.21H438.88V1312.78H445.3V1312.35H451.72V1311.93H458.14V1311.3H464.56V1310.5H470.98V1309.7H477.4V1308.9H483.82V1308.09H490.24V1307.29H496.66V1306.49H503.08V1305.51H509.5V1304.51H515.92V1303.51H522.34V1302.5H528.76V1301.5H535.18V1300.06H541.6V1298.22H548.02V1296.39H554.44V1294.56H560.86V1292.72H567.28V1291.36H573.7V1290.08H580.12V1288.8H586.54V1287.8H592.96V1286.04H599.38V1284.24H605.8V1282.44H612.22V1280.97H618.64V1279.69H625.06V1278.4H631.48V1277.21H637.9V1276.25H644.32V1275.29H650.74V1274.33H657.16V1273.52H663.58V1272.72H670V1272.03H676.42V1271.63H682.84V1271.23H689.26V1271.21H695.68V1271.4H702.1V1271.59H708.52V1271.99H714.94V1272.85H721.36V1273.7H727.78V1274.49H734.2V1275.13H740.62V1275.78H747.04V1276.42H753.46V1277.88H759.88V1279.35H766.3V1280.83H772.72V1282.06H779.14V1283.15H785.56V1284.24H791.98V1285.39H798.4V1286.68H804.82V1287.96H811.24V1289.24H817.66V1290.53H824.08V1291.81H830.5V1293.1H836.92V1294.17H843.34V1295.13H849.76V1296.1H856.18V1297.16H862.6V1298.45H869.02V1299.73H875.44V1301.01H881.86V1301.56H888.28V1302.09H894.7V1305.28H901.12V1308.07H907.54V1310.64H913.96V1311.93H920.38V1313.21H926.8V1314.49H933.22V1315.27H939.64V1315.78H946.06V1316.3H952.48V1316.74H958.9V1317.07H965.32V1317.39H971.74V1317.71H978.16V1317.96H984.58V1318.22H991V1318.48H997.42V1318.8H1003.84V1319.16H1010.26" class="h b"/>
</g>
<g clip-path="url(#c06)">
<path d="M168.27 1538.76V1538.76H187.28V1537.94H196.79V1537.71H206.3V1537.49H215.8V1537.28H225.31V1534.19H234.82V1531.31H244.32V1524.25H253.83V1518.26H263.34V1502.87H272.84V1499.02H282.35V1485.76H291.86V1459.24H301.37V1459.88H310.87V1434.43H320.38V1398.29H329.89V1436.57H339.39V1413.47H348.9V1370.27H358.41V1386.74H367.91V1386.1H377.42V1406.42H396.44V1400.64H405.94V1398.5H415.45V1402.14H424.96V1405.56H434.46V1450.9H443.97V1449.83H453.48V1464.8H462.98V1469.72H472.49V1470.15H482V1487.68H491.51V1486.61H501.01V1498.37H510.52V1502.65H520.03V1506.5H529.53V1507.14H539.04V1512.28H548.55V1515.06H558.05V1519.76H567.56V1522.54H577.07V1524.46H586.57V1525.75H596.08V1524.43H605.59V1525.38H615.1V1526.46H624.6V1527.9H634.11V1528.05H643.62V1531.7H653.12V1530.96H662.63V1531.75H672.14V1532.52H681.64V1533.09H691.15V1533.65H700.66V1534.02H710.17V1534.38H719.67V1534.75H729.18V1535.11H738.69V1535.58H748.19V1536.07H757.7V1536.36H767.21V1536.66H776.71V1536.96H786.22V1537.22H795.73V1537.43H805.24V1537.62H814.74V1537.76H824.25V1537.91H833.76V1538.01H843.26V1538.1H852.77V1538.2H862.28V1538.29H871.78V1538.42H881.29V1538.6H890.8V1538.76H1014.39V1538.76Z" fill="#fddcb0"/>
<path d="M316.9 1319.28L316.9 1538.76" class="dt"/>
<path d="M476.8 1319.28L476.8 1538.76" class="dt"/>
<path d="M385.3 1319.28L385.3 1538.76" class="md"/>
<path d="M168.27 1538.76H187.28V1537.94H196.79V1537.71H206.3V1537.49H215.8V1537.28H225.31V1534.19H234.82V1531.31H244.32V1524.25H253.83V1518.26H263.34V1502.87H272.84V1499.02H282.35V1485.76H291.86V1459.24H301.37V1459.88H310.87V1434.43H320.38V1398.29H329.89V1436.57H339.39V1413.47H348.9V1370.27H358.41V1386.74H367.91V1386.1H377.42V1406.42H396.44V1400.64H405.94V1398.5H415.45V1402.14H424.96V1405.56H434.46V1450.9H443.97V1449.83H453.48V1464.8H462.98V1469.72H472.49V1470.15H482V1487.68H491.51V1486.61H501.01V1498.37H510.52V1502.65H520.03V1506.5H529.53V1507.14H539.04V1512.28H548.55V1515.06H558.05V1519.76H567.56V1522.54H577.07V1524.46H586.57V1525.75H596.08V1524.43H605.59V1525.38H615.1V1526.46H624.6V1527.9H634.11V1528.05H643.62V1531.7H653.12V1530.96H662.63V1531.75H672.14V1532.52H681.64V1533.09H691.15V1533.65H700.66V1534.02H710.17V1534.38H719.67V1534.75H729.18V1535.11H738.69V1535.58H748.19V1536.07H757.7V1536.36H767.21V1536.66H776.71V1536.96H786.22V1537.22H795.73V1537.43H805.24V1537.62H814.74V1537.76H824.25V1537.91H833.76V1538.01H843.26V1538.1H852.77V1538.2H862.28V1538.29H871.78V1538.42H881.29V1538.6H890.8V1538.76H1014.39" class="h k"/>
<path d="M168.27 1538.76H187.28V1537.94H196.79V1537.71H206.3V1537.49H215.8V1537.28H225.31V1534.93H234.82V1532.79H244.32V1527.01H253.83V1522.1H263.34V1508.2H272.84V1506.06H282.35V1495.36H291.86V1474.41H301.37V1472.27H310.87V1450.03H320.38V1417.73H329.89V1454.3H339.39V1431.85H348.9V1388.01H358.41V1405.54H367.91V1408.11H377.42V1424.79H386.93V1425.22H396.44V1417.31H405.94V1411.53H415.45V1416.66H424.96V1417.95H434.46V1462.22H443.97V1459.01H453.48V1473.98H462.98V1479.97H472.49V1477.19H482V1493.22H491.51V1492.16H501.01V1502.85H510.52V1507.13H520.03V1510.33H529.53V1510.98H539.04V1515.04H548.55V1517.82H558.05V1522.1H567.56V1524.88H577.07V1526.37H586.57V1527.44H596.08V1525.89H605.59V1526.74H615.1V1527.72H624.6V1529.06H634.11V1529.11H643.62V1532.65H653.12V1531.81H662.63V1532.54H672.14V1533.26H681.64V1533.79H691.15V1534.31H700.66V1534.62H710.17V1534.94H719.67V1535.26H729.18V1535.58H738.69V1536H748.19V1536.42H757.7V1536.66H767.21V1536.9H776.71V1537.14H786.22V1537.34H795.73V1537.48H805.24V1537.62H814.74V1537.76H824.25V1537.91H833.76V1538.01H843.26V1538.1H852.77V1538.2H862.28V1538.29H871.78V1538.42H881.29V1538.6H890.8V1538.76H1014.39" class="h r"/>
<path d="M168.27 1538.76H225.31V1538.02H234.82V1537.28H244.32V1536H253.83V1534.93H263.34V1533.43H272.84V1531.72H282.35V1529.15H291.86V1523.59H301.37V1526.37H310.87V1523.17H320.38V1519.32H329.89V1521.03H339.39V1520.38H348.9V1521.03H358.41V1519.96H367.91V1516.75H377.42V1520.38H386.93V1519.96H396.44V1522.1H405.94V1525.73H415.45V1524.23H424.96V1526.37H434.46V1527.44H443.97V1529.58H462.98V1528.51H472.49V1531.72H482V1533.22H501.01V1534.29H520.03V1534.93H539.04V1536H558.05V1536.42H577.07V1536.85H586.57V1537.07H596.08V1537.3H605.59V1537.4H615.1V1537.5H624.6V1537.6H634.11V1537.71H643.62V1537.81H653.12V1537.91H662.63V1537.96H672.14V1538.01H681.64V1538.06H691.15V1538.11H700.66V1538.15H710.17V1538.2H719.67V1538.25H729.18V1538.3H738.69V1538.34H748.19V1538.4H757.7V1538.46H767.21V1538.53H776.71V1538.59H786.22V1538.65H795.73V1538.71H805.24V1538.76H1014.39" class="h b"/>
</g>
<g clip-path="url(#c07)">
<path d="M168.27 1758.24V1758.24H187.28V1757.59H196.79V1757.4H206.3V1757.45H215.8V1757.49H225.31V1756.42H234.82V1755.57H244.32V1753.59H253.83V1750.97H263.34V1745.2H272.84V1740.28H282.35V1733.86H291.86V1721.67H301.37V1715.26H310.87V1696.65H320.38V1669.92H329.89V1680.19H339.39V1665.22H348.9V1621.16H358.41V1626.51H367.91V1603.41H377.42V1616.46H386.93V1612.61H396.44V1589.72H405.94V1591.22H415.45V1586.09H424.96V1595.5H434.46V1636.77H443.97V1633.99H453.48V1638.27H462.98V1652.17H472.49V1650.46H482V1666.71H491.51V1671.2H501.01V1684.68H510.52V1692.38H520.03V1693.23H529.53V1704.57H539.04V1709.27H548.55V1715.69H558.05V1724.67H567.56V1729.59H577.07V1733.01H586.57V1726.59H596.08V1734.51H605.59V1736.94H615.1V1740.07H624.6V1741.83H634.11V1741.96H643.62V1747.29H653.12V1745.27H662.63V1746.11H672.14V1747.07H681.64V1749.15H691.15V1749.74H700.66V1750.34H710.17V1750.8H719.67V1751.3H729.18V1752.06H738.69V1752.82H748.19V1753.44H757.7V1754.06H767.21V1754.67H776.71V1755.28H786.22V1755.78H795.73V1756.1H805.24V1756.45H814.74V1756.64H824.25V1756.83H833.76V1756.98H843.26V1757.12H852.77V1757.26H862.28V1757.41H871.78V1757.62H881.29V1757.93H890.8V1758.24H1014.39V1758.24Z" fill="#fddcb0"/>
<path d="M349.6 1538.76L349.6 1758.24" class="dt"/>
<path d="M519 1538.76L519 1758.24" class="dt"/>
<path d="M416.7 1538.76L416.7 1758.24" class="md"/>
<path d="M168.27 1758.24H187.28V1757.59H196.79V1757.4H206.3V1757.45H215.8V1757.49H225.31V1756.42H234.82V1755.57H244.32V1753.59H253.83V1750.97H263.34V1745.2H272.84V1740.28H282.35V1733.86H291.86V1721.67H301.37V1715.26H310.87V1696.65H320.38V1669.92H329.89V1680.19H339.39V1665.22H348.9V1621.16H358.41V1626.51H367.91V1603.41H377.42V1616.46H386.93V1612.61H396.44V1589.72H405.94V1591.22H415.45V1586.09H424.96V1595.5H434.46V1636.77H443.97V1633.99H453.48V1638.27H462.98V1652.17H472.49V1650.46H482V1666.71H491.51V1671.2H501.01V1684.68H510.52V1692.38H520.03V1693.23H529.53V1704.57H539.04V1709.27H548.55V1715.69H558.05V1724.67H567.56V1729.59H577.07V1733.01H586.57V1726.59H596.08V1734.51H605.59V1736.94H615.1V1740.07H624.6V1741.83H634.11V1741.96H643.62V1747.29H653.12V1745.27H662.63V1746.11H672.14V1747.07H681.64V1749.15H691.15V1749.74H700.66V1750.34H710.17V1750.8H719.67V1751.3H729.18V1752.06H738.69V1752.82H748.19V1753.44H757.7V1754.06H767.21V1754.67H776.71V1755.28H786.22V1755.78H795.73V1756.1H805.24V1756.45H814.74V1756.64H824.25V1756.83H833.76V1756.98H843.26V1757.12H852.77V1757.26H862.28V1757.41H871.78V1757.62H881.29V1757.93H890.8V1758.24H1014.39" class="h k"/>
<path d="M168.27 1758.24H187.28V1757.59H196.79V1757.4H206.3V1757.45H215.8V1757.49H225.31V1756.42H234.82V1755.57H244.32V1754.29H253.83V1752.36H263.34V1748.51H272.84V1744.23H282.35V1738.89H291.86V1729.26H301.37V1722.85H310.87V1706.38H320.38V1682.86H329.89V1693.55H339.39V1680.72H348.9V1637.31H358.41V1643.72H367.91V1626.61H377.42V1638.37H386.93V1636.24H396.44V1611.64H405.94V1608.86H415.45V1603.73H424.96V1615.92H434.46V1654.41H443.97V1650.14H453.48V1654.41H462.98V1666.18H472.49V1662.33H482V1677.94H491.51V1681.57H501.01V1695.05H510.52V1699.97H520.03V1700.82H529.53V1710.02H539.04V1714.29H548.55V1720.71H558.05V1728.62H567.56V1733.54H577.07V1736.32H586.57V1729.91H596.08V1737.15H605.59V1739.45H615.1V1742.45H624.6V1744.07H634.11V1744.06H643.62V1749.26H653.12V1747.1H662.63V1747.84H672.14V1748.71H681.64V1750.69H691.15V1751.19H700.66V1751.69H710.17V1752.06H719.67V1752.46H729.18V1753.12H738.69V1753.79H748.19V1754.28H757.7V1754.76H767.21V1755.23H776.71V1755.71H786.22V1756.07H795.73V1756.26H805.24V1756.45H814.74V1756.64H824.25V1756.83H833.76V1756.98H843.26V1757.12H852.77V1757.26H862.28V1757.41H871.78V1757.62H881.29V1757.93H890.8V1758.24H1014.39" class="h r"/>
<path d="M168.27 1758.24H244.32V1757.55H253.83V1756.85H263.34V1754.93H272.84V1754.29H282.35V1753.22H291.86V1750.65H310.87V1748.51H320.38V1745.3H329.89V1744.88H339.39V1742.74H348.9V1742.1H358.41V1741.03H367.91V1735.04H377.42V1736.32H386.93V1734.61H396.44V1736.32H405.94V1740.6H424.96V1737.82H434.46V1740.6H443.97V1742.1H462.98V1744.23H472.49V1746.37H482V1747.01H491.51V1747.87H510.52V1750.65H529.53V1752.79H539.04V1753.22H558.05V1754.29H577.07V1754.93H596.08V1755.59H605.59V1755.73H615.1V1755.87H624.6V1756H634.11V1756.14H643.62V1756.27H653.12V1756.41H662.63V1756.51H672.14V1756.6H681.64V1756.7H691.15V1756.79H700.66V1756.89H710.17V1756.98H719.67V1757.08H729.18V1757.17H738.69V1757.27H748.19V1757.4H757.7V1757.54H767.21V1757.67H776.71V1757.81H786.22V1757.95H795.73V1758.08H805.24V1758.24H1014.39" class="h b"/>
</g>
<g clip-path="url(#c10)">
<path d="M1178.2 221.88V221.88H1549.79V221.53H1554.56V221.13H1559.32V220.53H1564.08V219.82H1568.85V219.11H1573.61V218.41H1578.38V217.73H1583.14V217.21H1587.9V216.69H1592.67V215.98H1597.43V215.06H1602.2V214.14H1606.96V212.92H1611.72V211.6H1616.49V210.23H1621.25V208.2H1626.02V206.17H1630.78V203.07H1635.54V199.56H1640.31V195.85H1645.07V192.55H1649.84V189.43H1654.6V185.78H1659.36V182H1664.13V177.62H1668.89V169.47H1673.66V154.42H1678.42V144.71H1683.18V135.83H1687.95V124.86H1692.71V132.43H1697.48V120.96H1702.24V113.71H1707V113.94H1711.77V99.72H1716.53V88.05H1721.3V77.9H1726.06V69.78H1730.82V65.06H1735.59V78.13H1740.35V65.19H1745.12V61.5H1749.88V63.39H1754.64V52.15H1759.41V70.02H1764.17V54.32H1768.94V45.91H1773.7V75.66H1778.46V82.74H1783.23V85.59H1787.99V60.47H1792.76V69.04H1797.52V96.95H1802.28V89.1H1807.05V95.15H1811.81V105.1H1816.58V105.77H1821.34V122.82H1826.1V124.58H1830.87V135.11H1835.63V145.41H1840.4V151.82H1845.16V158.39H1849.92V163.95H1854.69V170.6H1859.45V177.81H1864.22V184.05H1868.98V189.48H1873.74V194.03H1878.51V198.95H1883.27V202.9H1888.04V206.72H1892.8V208.77H1897.56V210.82H1902.33V212.32H1907.09V213.7H1911.86V214.92H1916.62V216.01H1921.38V216.92H1926.15V217.46H1930.91V217.99H1935.68V218.53H1940.44V219.07H1945.2V219.44H1949.97V219.79H1954.73V220.13H1959.5V220.48H1964.26V220.76H1969.02V220.94H1973.79V221.11H1978.55V221.29H1983.32V221.46H1988.08V221.64H1992.84V221.81H1997.61V221.88H2007.14V221.88Z" fill="#fddcb0"/>
<path d="M1699.1 2.4L1699.1 221.88" class="dt"/>
<path d="M1821.7 2.4L1821.7 221.88" class="dt"/>
<path d="M1759.6 2.4L1759.6 221.88" class="md"/>
<path d="M1178.2 221.88H1549.79V221.53H1554.56V221.13H1559.32V220.53H1564.08V219.82H1568.85V219.11H1573.61V218.41H1578.38V217.73H1583.14V217.21H1587.9V216.69H1592.67V215.98H1597.43V215.06H1602.2V214.14H1606.96V212.92H1611.72V211.6H1616.49V210.23H1621.25V208.2H1626.02V206.17H1630.78V203.07H1635.54V199.56H1640.31V195.85H1645.07V192.55H1649.84V189.43H1654.6V185.78H1659.36V182H1664.13V177.62H1668.89V169.47H1673.66V154.42H1678.42V144.71H1683.18V135.83H1687.95V124.86H1692.71V132.43H1697.48V120.96H1702.24V113.71H1707V113.94H1711.77V99.72H1716.53V88.05H1721.3V77.9H1726.06V69.78H1730.82V65.06H1735.59V78.13H1740.35V65.19H1745.12V61.5H1749.88V63.39H1754.64V52.15H1759.41V70.02H1764.17V54.32H1768.94V45.91H1773.7V75.66H1778.46V82.74H1783.23V85.59H1787.99V60.47H1792.76V69.04H1797.52V96.95H1802.28V89.1H1807.05V95.15H1811.81V105.1H1816.58V105.77H1821.34V122.82H1826.1V124.58H1830.87V135.11H1835.63V145.41H1840.4V151.82H1845.16V158.39H1849.92V163.95H1854.69V170.6H1859.45V177.81H1864.22V184.05H1868.98V189.48H1873.74V194.03H1878.51V198.95H1883.27V202.9H1888.04V206.72H1892.8V208.77H1897.56V210.82H1902.33V212.32H1907.09V213.7H1911.86V214.92H1916.62V216.01H1921.38V216.92H1926.15V217.46H1930.91V217.99H1935.68V218.53H1940.44V219.07H1945.2V219.44H1949.97V219.79H1954.73V220.13H1959.5V220.48H1964.26V220.76H1969.02V220.94H1973.79V221.11H1978.55V221.29H1983.32V221.46H1988.08V221.64H1992.84V221.81H1997.61V221.88H2007.14" class="h k"/>
<path d="M1178.2 221.88H1549.79V221.53H1554.56V221.13H1559.32V220.73H1564.08V220.33H1568.85V219.94H1573.61V219.54H1578.38V219.14H1583.14V218.74H1587.9V218.35H1592.67V217.77H1597.43V216.97H1602.2V216.18H1606.96V215.08H1611.72V213.89H1616.49V212.64H1621.25V210.73H1626.02V208.83H1630.78V205.86H1635.54V202.49H1640.31V198.92H1645.07V195.76H1649.84V192.78H1654.6V189.27H1659.36V185.64H1664.13V181.47H1668.89V173.85H1673.66V159.33H1678.42V150.15H1683.18V141.68H1687.95V130.49H1692.71V137.84H1697.48V126.16H1702.24V118.69H1707V118.82H1711.77V104.93H1716.53V93.57H1721.3V83.74H1726.06V75.94H1730.82V71.53H1735.59V84.92H1740.35V72.38H1745.12V69.16H1749.88V71.53H1754.64V60.52H1759.41V78.14H1764.17V62.21H1768.94V53.57H1773.7V82.89H1778.46V89.5H1783.23V91.87H1787.99V66.28H1792.76V74.41H1797.52V102.04H1802.28V93.91H1807.05V99.67H1811.81V109.33H1816.58V110.69H1821.34V128.04H1826.1V129.25H1830.87V139.24H1835.63V149.11H1840.4V155.35H1845.16V161.75H1849.92V167.14H1854.69V173.63H1859.45V180.67H1864.22V186.74H1868.98V192.01H1873.74V196.4H1878.51V201.15H1883.27V204.96H1888.04V208.64H1892.8V210.55H1897.56V212.45H1902.33V213.81H1907.09V215.05H1911.86V216.12H1916.62V217.07H1921.38V217.85H1926.15V218.28H1930.91V218.71H1935.68V219.14H1940.44V219.57H1945.2V219.83H1949.97V220.07H1954.73V220.31H1959.5V220.55H1964.26V220.76H1969.02V220.94H1973.79V221.11H1978.55V221.29H1983.32V221.46H1988.08V221.64H1992.84V221.81H1997.61V221.88H2007.14" class="h r"/>
<path d="M1178.2 221.88H1559.32V221.68H1564.08V221.37H1568.85V221.06H1573.61V220.75H1578.38V220.47H1583.14V220.34H1587.9V220.22H1592.67V220.09H1597.43V219.97H1602.2V219.85H1606.96V219.72H1611.72V219.6H1616.49V219.47H1621.25V219.35H1626.02V219.23H1630.78V219.09H1635.54V218.95H1640.31V218.81H1645.07V218.67H1649.84V218.53H1654.6V218.39H1659.36V218.25H1664.13V218.03H1668.89V217.5H1673.66V216.97H1678.42V216.44H1683.18V216.03H1687.95V216.25H1692.71V216.46H1697.48V216.68H1702.24V216.9H1707V216.99H1711.77V216.68H1716.53V216.36H1721.3V216.04H1726.06V215.72H1730.82V215.41H1735.59V215.09H1740.35V214.69H1745.12V214.22H1749.88V213.74H1754.64V213.51H1759.41V213.75H1764.17V213.99H1768.94V214.23H1773.7V214.65H1778.46V215.12H1783.23V215.6H1787.99V216.08H1792.76V216.5H1797.52V216.79H1802.28V217.07H1807.05V217.36H1811.81V217.64H1816.58V216.96H1821.34V216.66H1826.1V217.2H1830.87V217.75H1835.63V218.18H1840.4V218.35H1845.16V218.52H1849.92V218.68H1854.69V218.85H1859.45V219.02H1864.22V219.18H1868.98V219.35H1873.74V219.52H1878.51V219.68H1883.27V219.82H1888.04V219.96H1892.8V220.11H1897.56V220.25H1902.33V220.39H1907.09V220.53H1911.86V220.68H1916.62V220.82H1921.38V220.95H1926.15V221.06H1930.91V221.17H1935.68V221.27H1940.44V221.38H1945.2V221.49H1949.97V221.6H1954.73V221.7H1959.5V221.81H1964.26V221.88H2007.14" class="h b"/>
</g>
<g clip-path="url(#c11)">
<path d="M1178.2 441.36V441.36H1549.79V441.07H1554.56V440.75H1559.32V440.31H1564.08V439.79H1568.85V439.28H1573.61V438.76H1578.38V438.26H1583.14V437.78H1587.9V437.3H1592.67V436.56H1597.43V435.52H1602.2V434.49H1606.96V433.27H1611.72V431.99H1616.49V430.64H1621.25V428.42H1626.02V425.45H1630.78V420.55H1635.54V417.32H1640.31V414.2H1645.07V411.09H1649.84V407.56H1654.6V403.25H1659.36V398.61H1664.13V393.73H1668.89V385.32H1673.66V375.26H1678.42V365.55H1683.18V355.47H1687.95V344.24H1692.71V351.52H1697.48V336.61H1702.24V332.3H1707V334.34H1711.77V315.61H1716.53V306.55H1721.3V295.61H1726.06V291.29H1730.82V273.58H1735.59V285.53H1740.35V279.09H1745.12V274.61H1749.88V278.26H1754.64V271.23H1759.41V287.09H1764.17V279.13H1768.94V266.08H1773.7V296.88H1778.46V304.12H1783.23V303.56H1787.99V278.25H1792.76V291.9H1797.52V318.7H1802.28V310.76H1807.05V313.66H1811.81V322.49H1816.58V327.02H1821.34V342.87H1826.1V345.09H1830.87V355.3H1835.63V365.27H1840.4V372.31H1845.16V378.52H1849.92V384.21H1854.69V390.65H1859.45V397.35H1864.22V403.56H1868.98V408.97H1873.74V413.5H1878.51V418.4H1883.27V422.35H1888.04V426.17H1892.8V428.22H1897.56V430.27H1902.33V431.91H1907.09V433.46H1911.86V434.73H1916.62V435.81H1921.38V436.72H1926.15V437.32H1930.91V437.92H1935.68V438.51H1940.44V439.11H1945.2V439.41H1949.97V439.64H1954.73V439.88H1959.5V440.12H1964.26V440.33H1969.02V440.49H1973.79V440.65H1978.55V440.82H1983.32V440.98H1988.08V441.14H1992.84V441.3H1997.61V441.36H2007.14V441.36Z" fill="#fddcb0"/>
<path d="M1699.1 221.88L1699.1 441.36" class="dt"/>
<path d="M1819.9 221.88L1819.9 441.36" class="dt"/>
<path d="M1758.6 221.88L1758.6 441.36" class="md"/>
<path d="M1178.2 441.36H1549.79V441.07H1554.56V440.75H1559.32V440.31H1564.08V439.79H1568.85V439.28H1573.61V438.76H1578.38V438.26H1583.14V437.78H1587.9V437.3H1592.67V436.56H1597.43V435.52H1602.2V434.49H1606.96V433.27H1611.72V431.99H1616.49V430.64H1621.25V428.42H1626.02V425.45H1630.78V420.55H1635.54V417.32H1640.31V414.2H1645.07V411.09H1649.84V407.56H1654.6V403.25H1659.36V398.61H1664.13V393.73H1668.89V385.32H1673.66V375.26H1678.42V365.55H1683.18V355.47H1687.95V344.24H1692.71V351.52H1697.48V336.61H1702.24V332.3H1707V334.34H1711.77V315.61H1716.53V306.55H1721.3V295.61H1726.06V291.29H1730.82V273.58H1735.59V285.53H1740.35V279.09H1745.12V274.61H1749.88V278.26H1754.64V271.23H1759.41V287.09H1764.17V279.13H1768.94V266.08H1773.7V296.88H1778.46V304.12H1783.23V303.56H1787.99V278.25H1792.76V291.9H1797.52V318.7H1802.28V310.76H1807.05V313.66H1811.81V322.49H1816.58V327.02H1821.34V342.87H1826.1V345.09H1830.87V355.3H1835.63V365.27H1840.4V372.31H1845.16V378.52H1849.92V384.21H1854.69V390.65H1859.45V397.35H1864.22V403.56H1868.98V408.97H1873.74V413.5H1878.51V418.4H1883.27V422.35H1888.04V426.17H1892.8V428.22H1897.56V430.27H1902.33V431.91H1907.09V433.46H1911.86V434.73H1916.62V435.81H1921.38V436.72H1926.15V437.32H1930.91V437.92H1935.68V438.51H1940.44V439.11H1945.2V439.41H1949.97V439.64H1954.73V439.88H1959.5V440.12H1964.26V440.33H1969.02V440.49H1973.79V440.65H1978.55V440.82H1983.32V440.98H1988.08V441.14H1992.84V441.3H1997.61V441.36H2007.14" class="h k"/>
<path d="M1178.2 441.36H1549.79V441.07H1554.56V440.75H1559.32V440.43H1564.08V440.11H1568.85V439.79H1573.61V439.47H1578.38V439.14H1583.14V438.74H1587.9V438.35H1592.67V437.69H1597.43V436.74H1602.2V435.79H1606.96V434.65H1611.72V433.46H1616.49V432.19H1621.25V430.05H1626.02V427.16H1630.78V422.4H1635.54V419.31H1640.31V416.33H1645.07V413.35H1649.84V409.96H1654.6V405.8H1659.36V401.3H1664.13V396.54H1668.89V388.18H1673.66V378.17H1678.42V368.5H1683.18V358.47H1687.95V347.28H1692.71V354.61H1697.48V339.75H1702.24V335.49H1707V337.63H1711.77V319.15H1716.53V310.34H1721.3V299.66H1726.06V295.59H1730.82V278.13H1735.59V290.34H1740.35V284.23H1745.12V280.17H1749.88V284.23H1754.64V277.62H1759.41V293.22H1764.17V284.91H1768.94V271.52H1773.7V302.03H1778.46V308.98H1783.23V308.13H1787.99V282.54H1792.76V295.93H1797.52V322.54H1802.28V314.4H1807.05V317.12H1811.81V325.76H1816.58V330.17H1821.34V345.92H1826.1V348.05H1830.87V358.17H1835.63V368.04H1840.4V374.98H1845.16V381.1H1849.92V386.69H1854.69V393.04H1859.45V399.6H1864.22V405.67H1868.98V410.94H1873.74V415.33H1878.51V420.08H1883.27V423.89H1888.04V427.57H1892.8V429.48H1897.56V431.38H1902.33V432.9H1907.09V434.33H1911.86V435.48H1916.62V436.43H1921.38V437.23H1926.15V437.7H1930.91V438.18H1935.68V438.65H1940.44V439.13H1945.2V439.41H1949.97V439.64H1954.73V439.88H1959.5V440.12H1964.26V440.33H1969.02V440.49H1973.79V440.65H1978.55V440.82H1983.32V440.98H1988.08V441.14H1992.84V441.3H1997.61V441.36H2007.14" class="h r"/>
<path d="M1178.2 441.36H1559.32V441.23H1564.08V441.04H1568.85V440.85H1573.61V440.65H1578.38V440.47H1583.14V440.39H1587.9V440.31H1592.67V440.23H1597.43V440.14H1602.2V440.06H1606.96V439.98H1611.72V439.89H1616.49V439.81H1621.25V439.73H1626.02V439.65H1630.78V439.52H1635.54V439.38H1640.31V439.24H1645.07V439.09H1649.84V438.95H1654.6V438.81H1659.36V438.67H1664.13V438.55H1668.89V438.51H1673.66V438.46H1678.42V438.41H1683.18V438.36H1687.95V438.32H1692.71V438.27H1697.48V438.22H1702.24V438.17H1707V438.08H1711.77V437.82H1716.53V437.57H1721.3V437.32H1726.06V437.06H1730.82V436.81H1735.59V436.55H1740.35V436.22H1745.12V435.8H1749.88V435.39H1754.64V434.97H1759.41V435.23H1764.17V435.57H1768.94V435.91H1773.7V436.21H1778.46V436.5H1783.23V436.78H1787.99V437.07H1792.76V437.33H1797.52V437.52H1802.28V437.71H1807.05V437.9H1811.81V438.09H1816.58V438.21H1821.34V438.3H1826.1V438.4H1830.87V438.5H1835.63V438.59H1840.4V438.69H1845.16V438.78H1849.92V438.88H1854.69V438.97H1859.45V439.11H1864.22V439.25H1868.98V439.39H1873.74V439.53H1878.51V439.68H1883.27V439.82H1888.04V439.96H1892.8V440.11H1897.56V440.25H1902.33V440.37H1907.09V440.49H1911.86V440.62H1916.62V440.74H1921.38V440.86H1926.15V440.98H1930.91V441.1H1935.68V441.22H1940.44V441.34H1945.2V441.36H2007.14" class="h b"/>
</g>
<g clip-path="url(#c12)">
<path d="M1178.2 660.84V660.84H1535.5V660.81H1540.26V660.51H1545.03V660.21H1549.79V659.92H1554.56V659.62H1559.32V659.29H1564.08V658.71H1568.85V658.14H1573.61V657.56H1578.38V656.99H1583.14V655.64H1587.9V654.23H1592.67V652.82H1597.43V650.98H1602.2V649.35H1606.96V647.51H1611.72V645.44H1616.49V643.16H1621.25V640.45H1626.02V637.24H1630.78V634.03H1635.54V629.76H1640.31V626.55H1645.07V622.27H1649.84V617.99H1654.6V612.65H1659.36V609.44H1664.13V603.03H1668.89V598.74H1673.66V592.32H1678.42V582.68H1683.18V567.75H1687.95V569.87H1692.71V560.25H1697.48V553.86H1702.24V560.23H1707V545.29H1711.77V543.13H1716.53V530.31H1721.3V522.43H1726.06V530.29H1730.82V515.36H1735.59V521.11H1740.35V513.2H1745.12V504.63H1749.88V490.81H1754.64V515.34H1759.41V507.87H1764.17V506.37H1768.94V507.46H1773.7V517.93H1778.46V521.14H1783.23V528.83H1787.99V531.83H1792.76V537.82H1797.52V545.28H1802.28V538.89H1807.05V545.31H1811.81V554.28H1816.58V556H1821.34V566.69H1826.1V575.24H1830.87V581.66H1835.63V587.01H1840.4V593.43H1845.16V604.11H1849.92V607.32H1854.69V614.8H1859.45V619.08H1864.22V624H1868.98V627.63H1873.74V631.27H1878.51V635.12H1883.27V638.97H1888.04V641.53H1892.8V644.31H1897.56V646.13H1902.33V647.95H1907.09V649.37H1911.86V650.8H1916.62V652.22H1921.38V653.16H1926.15V654.11H1930.91V655.05H1935.68V655.99H1940.44V656.93H1945.2V657.41H1949.97V657.9H1954.73V658.39H1959.5V658.87H1964.26V659.36H1969.02V659.75H1973.79V660.17H1978.55V660.33H1983.32V660.49H1988.08V660.65H1992.84V660.84H2007.14V660.84Z" fill="#fddcb0"/>
<path d="M1690.1 441.36L1690.1 660.84" class="dt"/>
<path d="M1822.3 441.36L1822.3 660.84" class="dt"/>
<path d="M1756.4 441.36L1756.4 660.84" class="md"/>
<path d="M1178.2 660.84H1535.5V660.81H1540.26V660.51H1545.03V660.21H1549.79V659.92H1554.56V659.62H1559.32V659.29H1564.08V658.71H1568.85V658.14H1573.61V657.56H1578.38V656.99H1583.14V655.64H1587.9V654.23H1592.67V652.82H1597.43V650.98H1602.2V649.35H1606.96V647.51H1611.72V645.44H1616.49V643.16H1621.25V640.45H1626.02V637.24H1630.78V634.03H1635.54V629.76H1640.31V626.55H1645.07V622.27H1649.84V617.99H1654.6V612.65H1659.36V609.44H1664.13V603.03H1668.89V598.74H1673.66V592.32H1678.42V582.68H1683.18V567.75H1687.95V569.87H1692.71V560.25H1697.48V553.86H1702.24V560.23H1707V545.29H1711.77V543.13H1716.53V530.31H1721.3V522.43H1726.06V530.29H1730.82V515.36H1735.59V521.11H1740.35V513.2H1745.12V504.63H1749.88V490.81H1754.64V515.34H1759.41V507.87H1764.17V506.37H1768.94V507.46H1773.7V517.93H1778.46V521.14H1783.23V528.83H1787.99V531.83H1792.76V537.82H1797.52V545.28H1802.28V538.89H1807.05V545.31H1811.81V554.28H1816.58V556H1821.34V566.69H1826.1V575.24H1830.87V581.66H1835.63V587.01H1840.4V593.43H1845.16V604.11H1849.92V607.32H1854.69V614.8H1859.45V619.08H1864.22V624H1868.98V627.63H1873.74V631.27H1878.51V635.12H1883.27V638.97H1888.04V641.53H1892.8V644.31H1897.56V646.13H1902.33V647.95H1907.09V649.37H1911.86V650.8H1916.62V652.22H1921.38V653.16H1926.15V654.11H1930.91V655.05H1935.68V655.99H1940.44V656.93H1945.2V657.41H1949.97V657.9H1954.73V658.39H1959.5V658.87H1964.26V659.36H1969.02V659.75H1973.79V660.17H1978.55V660.33H1983.32V660.49H1988.08V660.65H1992.84V660.84H2007.14" class="h k"/>
<path d="M1178.2 660.84H1559.32V660.81H1564.08V660.53H1568.85V660.25H1573.61V659.97H1578.38V659.7H1583.14V659.42H1587.9V659.08H1592.67V658.73H1597.43V658.39H1602.2V658.05H1606.96V657.71H1611.72V657.14H1616.49V656.57H1621.25V655.99H1626.02V654.92H1630.78V653.85H1635.54V651.72H1640.31V650.64H1645.07V648.51H1649.84V646.37H1654.6V643.16H1659.36V642.09H1664.13V638.88H1668.89V636.74H1673.66V631.39H1678.42V623.9H1683.18V615.37H1687.95V618.55H1692.71V611.07H1697.48V605.76H1702.24V614.26H1707V600.39H1711.77V599.3H1716.53V588.62H1721.3V583.3H1726.06V591.81H1730.82V575.81H1735.59V583.27H1740.35V576.86H1745.12V570.43H1749.88V558.73H1754.64V578.99H1759.41V569.38H1764.17V569.38H1768.94V567.9H1773.7V576.87H1778.46V580.09H1783.23V585.43H1787.99V587.56H1792.76V588.65H1797.52V597.17H1802.28V586.5H1807.05V591.85H1811.81V599.32H1816.58V599.33H1821.34V605.75H1826.1V611.09H1830.87V615.37H1835.63V618.58H1840.4V622.86H1845.16V630.34H1849.92V631.41H1854.69V635.68H1859.45V638.89H1864.22V642.1H1868.98V644.24H1873.74V646.38H1878.51V648.51H1883.27V650.65H1888.04V651.72H1892.8V653.43H1897.56V654.18H1902.33V654.93H1907.09V655.64H1911.86V656.35H1916.62V657.07H1921.38V657.49H1926.15V657.92H1930.91V658.35H1935.68V658.78H1940.44V659.2H1945.2V659.43H1949.97V659.66H1954.73V659.89H1959.5V660.12H1964.26V660.35H1969.02V660.58H1973.79V660.84H2007.14" class="h r"/>
<path d="M1178.2 660.84H1535.5V660.81H1540.26V660.51H1545.03V660.21H1549.79V659.92H1554.56V659.62H1559.32V659.32H1564.08V659.03H1568.85V658.73H1573.61V658.43H1578.38V658.13H1583.14V657.06H1587.9V655.99H1592.67V654.92H1597.43V653.43H1602.2V652.14H1606.96V650.65H1611.72V649.15H1616.49V647.44H1621.25V645.3H1626.02V643.16H1630.78V641.02H1635.54V638.88H1640.31V636.74H1645.07V634.61H1649.84V632.47H1654.6V630.33H1659.36V628.19H1664.13V624.98H1668.89V622.85H1673.66V621.77H1678.42V619.63H1683.18V613.22H1687.95V612.15H1692.71V610.01H1697.48V608.94H1702.24V606.81H1707V605.74H1711.77V604.67H1716.53V602.53H1721.3V599.96H1726.06V599.33H1730.82V600.39H1735.59V598.68H1740.35V597.18H1745.12V595.04H1749.88V592.92H1754.64V597.19H1759.41V599.32H1764.17V597.83H1768.94V600.4H1773.7V601.89H1778.46V601.89H1783.23V604.24H1787.99V605.11H1792.76V610.02H1797.52V608.95H1802.28V613.23H1807.05V614.3H1811.81V615.79H1816.58V617.51H1821.34V621.78H1826.1V624.99H1830.87V627.13H1835.63V629.27H1840.4V631.41H1845.16V634.61H1849.92V636.75H1854.69V639.96H1859.45V641.03H1864.22V642.74H1868.98V644.24H1873.74V645.73H1878.51V647.44H1883.27V649.15H1888.04V650.65H1892.8V651.72H1897.56V652.79H1902.33V653.86H1907.09V654.57H1911.86V655.28H1916.62V656H1921.38V656.51H1926.15V657.02H1930.91V657.54H1935.68V658.05H1940.44V658.56H1945.2V658.82H1949.97V659.08H1954.73V659.33H1959.5V659.59H1964.26V659.85H1969.02V660.01H1973.79V660.17H1978.55V660.33H1983.32V660.49H1988.08V660.65H1992.84V660.84H2007.14" class="h b"/>
</g>
<g clip-path="url(#c13)">
<path d="M1178.2 880.32V880.32H1535.5V880.29H1540.26V880.01H1545.03V879.72H1549.79V879.43H1554.56V879.14H1559.32V878.83H1564.08V878.28H1568.85V877.73H1573.61V877.19H1578.38V876.64H1583.14V875.3H1587.9V873.85H1592.67V872.4H1597.43V870.73H1602.2V868.85H1606.96V867.39H1611.72V864.54H1616.49V861.69H1621.25V858.83H1626.02V855.62H1630.78V850.28H1635.54V846.64H1640.31V841.72H1645.07V837.44H1649.84V832.1H1654.6V826.75H1659.36V822.47H1664.13V817.12H1668.89V810.71H1673.66V804.29H1678.42V797.88H1683.18V791.46H1687.95V783.98H1692.71V778.63H1697.48V772.24H1702.24V778.61H1707V762.61H1711.77V764.71H1716.53V750.19H1721.3V743.37H1726.06V747.61H1730.82V734.82H1735.59V741.2H1740.35V730.51H1745.12V723.02H1749.88V711.32H1754.64V731.58H1759.41V725.61H1764.17V724.12H1768.94V727.77H1773.7V740.15H1778.46V741.23H1783.23V747.64H1787.99V751.93H1792.76V759.41H1797.52V766.87H1802.28V761.55H1807.05V770.1H1811.81V777.58H1816.58V780.37H1821.34V791.49H1826.1V797.9H1830.87V804.32H1835.63V809.66H1840.4V815.02H1845.16V825.27H1849.92V827.84H1854.69V835.32H1859.45V840.24H1864.22V843.88H1868.98V847.51H1873.74V851.36H1878.51V855.21H1883.27V858.85H1888.04V861.84H1892.8V864.4H1897.56V866.22H1902.33V868.04H1907.09V869.32H1911.86V870.61H1916.62V871.89H1921.38V872.7H1926.15V873.51H1930.91V874.33H1935.68V875.14H1940.44V875.95H1945.2V876.54H1949.97V877.13H1954.73V877.72H1959.5V878.31H1964.26V878.9H1969.02V879.29H1973.79V879.71H1978.55V879.86H1983.32V880H1988.08V880.15H1992.84V880.32H2007.14V880.32Z" fill="#fddcb0"/>
<path d="M1686.9 660.84L1686.9 880.32" class="dt"/>
<path d="M1819.9 660.84L1819.9 880.32" class="dt"/>
<path d="M1753.2 660.84L1753.2 880.32" class="md"/>
<path d="M1178.2 880.32H1535.5V880.29H1540.26V880.01H1545.03V879.72H1549.79V879.43H1554.56V879.14H1559.32V878.83H1564.08V878.28H1568.85V877.73H1573.61V877.19H1578.38V876.64H1583.14V875.3H1587.9V873.85H1592.67V872.4H1597.43V870.73H1602.2V868.85H1606.96V867.39H1611.72V864.54H1616.49V861.69H1621.25V858.83H1626.02V855.62H1630.78V850.28H1635.54V846.64H1640.31V841.72H1645.07V837.44H1649.84V832.1H1654.6V826.75H1659.36V822.47H1664.13V817.12H1668.89V810.71H1673.66V804.29H1678.42V797.88H1683.18V791.46H1687.95V783.98H1692.71V778.63H1697.48V772.24H1702.24V778.61H1707V762.61H1711.77V764.71H1716.53V750.19H1721.3V743.37H1726.06V747.61H1730.82V734.82H1735.59V741.2H1740.35V730.51H1745.12V723.02H1749.88V711.32H1754.64V731.58H1759.41V725.61H1764.17V724.12H1768.94V727.77H1773.7V740.15H1778.46V741.23H1783.23V747.64H1787.99V751.93H1792.76V759.41H1797.52V766.87H1802.28V761.55H1807.05V770.1H1811.81V777.58H1816.58V780.37H1821.34V791.49H1826.1V797.9H1830.87V804.32H1835.63V809.66H1840.4V815.02H1845.16V825.27H1849.92V827.84H1854.69V835.32H1859.45V840.24H1864.22V843.88H1868.98V847.51H1873.74V851.36H1878.51V855.21H1883.27V858.85H1888.04V861.84H1892.8V864.4H1897.56V866.22H1902.33V868.04H1907.09V869.32H1911.86V870.61H1916.62V871.89H1921.38V872.7H1926.15V873.51H1930.91V874.33H1935.68V875.14H1940.44V875.95H1945.2V876.54H1949.97V877.13H1954.73V877.72H1959.5V878.31H1964.26V878.9H1969.02V879.29H1973.79V879.71H1978.55V879.86H1983.32V880H1988.08V880.15H1992.84V880.32H2007.14" class="h k"/>
<path d="M1178.2 880.32H1559.32V880.29H1564.08V880.03H1568.85V879.77H1573.61V879.51H1578.38V879.25H1583.14V878.99H1587.9V878.6H1592.67V878.22H1597.43V877.83H1602.2V877.45H1606.96V877.06H1611.72V876.35H1616.49V875.64H1621.25V874.92H1626.02V873.86H1630.78V872.78H1635.54V871.29H1640.31V869.58H1645.07V867.44H1649.84V865.3H1654.6V862.09H1659.36V859.95H1664.13V857.81H1668.89V854.6H1673.66V849.25H1678.42V844.98H1683.18V840.7H1687.95V837.49H1692.71V833.21H1697.48V827.89H1702.24V835.34H1707V822.54H1711.77V825.71H1716.53V812.26H1721.3V806.51H1726.06V812.88H1730.82V801.16H1735.59V808.61H1740.35V800.07H1745.12V794.71H1749.88V784.07H1754.64V801.13H1759.41V793.02H1768.94V793.04H1773.7V802.22H1778.46V802.87H1783.23V807.57H1787.99V810.77H1792.76V811.86H1797.52V821.45H1802.28V811.85H1807.05V818.26H1811.81V823.6H1816.58V824.25H1821.34V831.09H1826.1V835.37H1830.87V838.58H1835.63V841.78H1840.4V845H1845.16V851.4H1849.92V852.48H1854.69V856.75H1859.45V859.96H1864.22V862.1H1868.98V864.24H1873.74V866.38H1878.51V868.51H1883.27V870.65H1888.04V872.15H1892.8V873.43H1897.56V874.18H1902.33V874.93H1907.09V875.5H1911.86V876.07H1916.62V876.64H1921.38V877.02H1926.15V877.41H1930.91V877.79H1935.68V878.18H1940.44V878.56H1945.2V878.81H1949.97V879.06H1954.73V879.31H1959.5V879.55H1964.26V879.8H1969.02V880.05H1973.79V880.32H2007.14" class="h r"/>
<path d="M1178.2 880.32H1535.5V880.29H1540.26V880.01H1545.03V879.72H1549.79V879.43H1554.56V879.14H1559.32V878.86H1564.08V878.57H1568.85V878.28H1573.61V877.99H1578.38V877.7H1583.14V876.64H1587.9V875.57H1592.67V874.5H1597.43V873.21H1602.2V871.72H1606.96V870.64H1611.72V868.51H1616.49V866.37H1621.25V864.23H1626.02V862.09H1630.78V857.81H1635.54V855.67H1640.31V852.47H1645.07V850.33H1649.84V847.12H1654.6V844.98H1659.36V842.84H1664.13V839.63H1668.89V836.43H1673.66V835.36H1678.42V833.22H1683.18V831.08H1687.95V826.81H1692.71V825.74H1697.48V824.67H1702.24V823.59H1707V820.39H1711.77V819.32H1716.53V818.25H1721.3V817.18H1726.06V815.04H1730.82V813.98H1735.59V812.9H1740.35V810.77H1745.12V808.63H1749.88V807.57H1754.64V810.77H1759.41V812.91H1764.17V811.42H1768.94V815.05H1773.7V818.26H1778.46V818.69H1783.23V820.4H1787.99V821.47H1792.76V827.87H1797.52V825.75H1802.28V830.02H1807.05V832.16H1811.81V834.3H1816.58V836.44H1821.34V840.71H1826.1V842.85H1830.87V846.06H1835.63V848.2H1840.4V850.34H1845.16V854.19H1849.92V855.68H1854.69V858.89H1859.45V860.6H1864.22V862.1H1868.98V863.6H1873.74V865.31H1878.51V867.02H1883.27V868.51H1888.04V870.01H1892.8V871.29H1897.56V872.36H1902.33V873.43H1907.09V874.14H1911.86V874.86H1916.62V875.57H1921.38V876H1926.15V876.42H1930.91V876.85H1935.68V877.28H1940.44V877.71H1945.2V878.05H1949.97V878.39H1954.73V878.73H1959.5V879.08H1964.26V879.42H1969.02V879.56H1973.79V879.71H1978.55V879.86H1983.32V880H1988.08V880.15H1992.84V880.32H2007.14" class="h b"/>
</g>
<g clip-path="url(#c14)">
<path d="M1182.96 1099.8V1099.8H1185.35V1099.8H1187.73V1099.75H1190.11V1099.7H1192.49V1099.65H1194.87V1099.6H1197.26V1099.54H1199.64V1099.49H1202.02V1099.44H1204.4V1099.39H1206.78V1099.34H1209.17V1099.29H1211.55V1099.24H1213.93V1099.19H1216.31V1099.14H1218.69V1099.09H1221.08V1099.04H1223.46V1098.99H1225.84V1098.94H1228.22V1098.89H1230.6V1098.84H1232.99V1098.79H1235.37V1098.74H1237.75V1098.69H1240.13V1098.64H1242.51V1098.59H1244.9V1098.53H1247.28V1098.48H1249.66V1098.43H1252.04V1098.38H1254.42V1098.33H1256.81V1098.25H1259.19V1098.18H1261.57V1098.11H1263.95V1098.09H1266.33V1097.88H1268.72V1097.96H1271.1V1097.95H1273.48V1097.75H1275.86V1097.67H1278.24V1097.71H1280.63V1097.69H1283.01V1097.34H1285.39V1097.48H1287.77V1097.25H1290.15V1097.4H1292.54V1097.15H1294.92V1097.15H1297.3V1097.08H1299.68V1096.95H1302.06V1096.94H1304.45V1096.89H1306.83V1096.5H1309.21V1096.47H1311.59V1096.54H1313.97V1096.43H1316.36V1096.17H1318.74V1096.21H1321.12V1095.86H1323.5V1095.82H1325.88V1095.95H1328.27V1095.88H1330.65V1095.48H1333.03V1095.66H1335.41V1095.34H1337.79V1095.04H1340.18V1094.8H1342.56V1094.67H1344.94V1094.29H1347.32V1094.09H1349.7V1094.06H1352.09V1093.45H1354.47V1093.48H1356.85V1093H1359.23V1093.05H1361.61V1092.6H1364V1092.68H1366.38V1092.43H1368.76V1091.7H1371.14V1092.03H1373.52V1091.39H1375.91V1091.23H1378.29V1090.88H1380.67V1090.55H1383.05V1090.15H1385.43V1089.97H1387.82V1089.66H1390.2V1089.45H1392.58V1089.23H1394.96V1088.67H1397.34V1088.47H1399.73V1088.56H1402.11V1088.28H1404.49V1087.68H1406.87V1087.76H1409.25V1086.81H1411.64V1086.45H1414.02V1086.61H1416.4V1085.59H1418.78V1085.2H1421.16V1084.82H1423.55V1084.81H1425.93V1084.54H1428.31V1083.86H1430.69V1083.46H1433.07V1082.66H1435.46V1082.63H1437.84V1081.5H1440.22V1081.52H1442.6V1081.18H1444.98V1080.41H1447.37V1079.85H1449.75V1079.03H1452.13V1078.34H1454.51V1077.71H1456.89V1077.52H1459.28V1076.63H1461.66V1076.61H1464.04V1076.08H1466.42V1075.29H1468.8V1074.23H1471.19V1074.11H1473.57V1073.87H1475.95V1073.28H1478.33V1072.1H1480.71V1072.05H1483.1V1071.59H1485.48V1070.5H1487.86V1070.41H1490.24V1069.01H1492.62V1068H1495.01V1067.97H1497.39V1067.7H1499.77V1066.72H1502.15V1065.66H1504.53V1065.71H1506.92V1064.82H1509.3V1064.57H1511.68V1064.28H1514.06V1062.76H1516.44V1062.02H1518.83V1061.74H1521.21V1060.22H1523.59V1059.97H1525.97V1058.08H1528.35V1057.02H1530.74V1055.57H1533.12V1055.21H1535.5V1053.98H1537.88V1052.14H1540.26V1051.64H1542.65V1051.26H1545.03V1048.24H1547.41V1047.44H1549.79V1046.06H1552.17V1044.01H1554.56V1043.75H1556.94V1043.31H1559.32V1041.84H1561.7V1038.42H1564.08V1037.44H1566.47V1037.32H1568.85V1035.24H1571.23V1034.3H1573.61V1031.44H1575.99V1029.03H1578.38V1027.03H1580.76V1025.76H1583.14V1023.12H1585.52V1023.42H1587.9V1019.29H1590.29V1017.66H1592.67V1014.22H1595.05V1012.83H1597.43V1009.73H1599.81V1008.46H1602.2V1005.14H1604.58V1000.57H1606.96V999.54H1609.34V994.93H1611.72V993.58H1614.11V990.9H1616.49V987.47H1618.87V987.95H1621.25V986.08H1623.63V980.18H1626.02V978.13H1628.4V976.61H1630.78V974.89H1633.16V970.61H1635.54V970.1H1637.93V966.44H1640.31V966.42H1642.69V960.7H1645.07V959.75H1647.45V958.78H1649.84V953.82H1652.22V954.07H1654.6V951.24H1656.98V949.16H1659.36V949.36H1661.75V946.16H1664.13V945.43H1666.51V941.36H1668.89V939.3H1671.27V938.79H1673.66V935.37H1676.04V935.14H1678.42V937.17H1680.8V937.44H1683.18V936.82H1685.57V933.26H1687.95V932.5H1690.33V933.03H1692.71V934.94H1695.09V931.51H1697.48V935.04H1699.86V931.6H1702.24V933.77H1704.62V932.75H1707V933.84H1709.39V936.08H1711.77V934.59H1714.15V936.06H1716.53V937.41H1718.91V940.82H1721.3V942.38H1723.68V944.42H1726.06V948.38H1728.44V947.34H1730.82V950.77H1733.21V951.51H1735.59V954.92H1737.97V957H1740.35V957.99H1742.73V961.29H1745.12V963.88H1747.5V964.64H1749.88V969.01H1752.26V971.49H1754.64V976.03H1757.03V981.46H1759.41V987.17H1761.79V990.34H1764.17V993.95H1766.55V995.9H1768.94V999.24H1771.32V1003.49H1773.7V1006.9H1776.08V1009.74H1778.46V1014.39H1780.85V1016.92H1783.23V1022.01H1785.61V1021.86H1787.99V1024.5H1790.37V1027.6H1792.76V1031.95H1795.14V1035.37H1797.52V1037.31H1799.9V1039.31H1802.28V1043.38H1804.67V1044.33H1807.05V1045.93H1809.43V1048.65H1811.81V1051.69H1814.19V1054.92H1816.58V1056.4H1818.96V1058.15H1821.34V1060.5H1823.72V1063.55H1826.1V1066.01H1828.49V1067.71H1830.87V1070.09H1833.25V1071.42H1835.63V1073.17H1838.01V1074.48H1840.4V1075.32H1842.78V1077.35H1845.16V1079.03H1847.54V1080.44H1849.92V1082.29H1852.31V1083.44H1854.69V1084.68H1857.07V1086.02H1859.45V1086.3H1861.83V1087.73H1864.22V1088.86H1866.6V1089.72H1868.98V1090.36H1871.36V1090.47H1873.74V1091.39H1876.13V1091.64H1878.51V1092.46H1880.89V1093.2H1883.27V1094.01H1885.65V1093.98H1888.04V1095.37H1890.42V1095.56H1892.8V1095.44H1895.18V1096.32H1897.56V1096.54H1899.95V1096.44H1902.33V1096.9H1904.71V1096.99H1907.09V1097.06H1909.47V1097.53H1911.86V1097.61H1914.24V1097.54H1916.62V1097.59H1919V1098.03H1921.38V1098.16H1923.77V1098.27H1926.15V1098.39H1928.53V1098.51H1930.91V1098.63H1933.29V1098.75H1935.68V1098.87H1938.06V1098.99H1940.44V1099.11H1942.82V1099.22H1945.2V1099.28H1947.59V1099.35H1949.97V1099.42H1952.35V1099.48H1954.73V1099.55H1957.11V1099.62H1959.5V1099.68H1961.88V1099.75H1964.26V1099.8H2004.75V1099.8Z" fill="#fddcb0"/>
<path d="M1569.7 880.32L1569.7 1099.8" class="dt"/>
<path d="M1759.2 880.32L1759.2 1099.8" class="dt"/>
<path d="M1677.9 880.32L1677.9 1099.8" class="md"/>
<path d="M1182.96 1099.8H1185.35V1099.8H1187.73V1099.75H1190.11V1099.7H1192.49V1099.65H1194.87V1099.6H1197.26V1099.54H1199.64V1099.49H1202.02V1099.44H1204.4V1099.39H1206.78V1099.34H1209.17V1099.29H1211.55V1099.24H1213.93V1099.19H1216.31V1099.14H1218.69V1099.09H1221.08V1099.04H1223.46V1098.99H1225.84V1098.94H1228.22V1098.89H1230.6V1098.84H1232.99V1098.79H1235.37V1098.74H1237.75V1098.69H1240.13V1098.64H1242.51V1098.59H1244.9V1098.53H1247.28V1098.48H1249.66V1098.43H1252.04V1098.38H1254.42V1098.33H1256.81V1098.25H1259.19V1098.18H1261.57V1098.11H1263.95V1098.09H1266.33V1097.88H1268.72V1097.96H1271.1V1097.95H1273.48V1097.75H1275.86V1097.67H1278.24V1097.71H1280.63V1097.69H1283.01V1097.34H1285.39V1097.48H1287.77V1097.25H1290.15V1097.4H1292.54V1097.15H1294.92V1097.15H1297.3V1097.08H1299.68V1096.95H1302.06V1096.94H1304.45V1096.89H1306.83V1096.5H1309.21V1096.47H1311.59V1096.54H1313.97V1096.43H1316.36V1096.17H1318.74V1096.21H1321.12V1095.86H1323.5V1095.82H1325.88V1095.95H1328.27V1095.88H1330.65V1095.48H1333.03V1095.66H1335.41V1095.34H1337.79V1095.04H1340.18V1094.8H1342.56V1094.67H1344.94V1094.29H1347.32V1094.09H1349.7V1094.06H1352.09V1093.45H1354.47V1093.48H1356.85V1093H1359.23V1093.05H1361.61V1092.6H1364V1092.68H1366.38V1092.43H1368.76V1091.7H1371.14V1092.03H1373.52V1091.39H1375.91V1091.23H1378.29V1090.88H1380.67V1090.55H1383.05V1090.15H1385.43V1089.97H1387.82V1089.66H1390.2V1089.45H1392.58V1089.23H1394.96V1088.67H1397.34V1088.47H1399.73V1088.56H1402.11V1088.28H1404.49V1087.68H1406.87V1087.76H1409.25V1086.81H1411.64V1086.45H1414.02V1086.61H1416.4V1085.59H1418.78V1085.2H1421.16V1084.82H1423.55V1084.81H1425.93V1084.54H1428.31V1083.86H1430.69V1083.46H1433.07V1082.66H1435.46V1082.63H1437.84V1081.5H1440.22V1081.52H1442.6V1081.18H1444.98V1080.41H1447.37V1079.85H1449.75V1079.03H1452.13V1078.34H1454.51V1077.71H1456.89V1077.52H1459.28V1076.63H1461.66V1076.61H1464.04V1076.08H1466.42V1075.29H1468.8V1074.23H1471.19V1074.11H1473.57V1073.87H1475.95V1073.28H1478.33V1072.1H1480.71V1072.05H1483.1V1071.59H1485.48V1070.5H1487.86V1070.41H1490.24V1069.01H1492.62V1068H1495.01V1067.97H1497.39V1067.7H1499.77V1066.72H1502.15V1065.66H1504.53V1065.71H1506.92V1064.82H1509.3V1064.57H1511.68V1064.28H1514.06V1062.76H1516.44V1062.02H1518.83V1061.74H1521.21V1060.22H1523.59V1059.97H1525.97V1058.08H1528.35V1057.02H1530.74V1055.57H1533.12V1055.21H1535.5V1053.98H1537.88V1052.14H1540.26V1051.64H1542.65V1051.26H1545.03V1048.24H1547.41V1047.44H1549.79V1046.06H1552.17V1044.01H1554.56V1043.75H1556.94V1043.31H1559.32V1041.84H1561.7V1038.42H1564.08V1037.44H1566.47V1037.32H1568.85V1035.24H1571.23V1034.3H1573.61V1031.44H1575.99V1029.03H1578.38V1027.03H1580.76V1025.76H1583.14V1023.12H1585.52V1023.42H1587.9V1019.29H1590.29V1017.66H1592.67V1014.22H1595.05V1012.83H1597.43V1009.73H1599.81V1008.46H1602.2V1005.14H1604.58V1000.57H1606.96V999.54H1609.34V994.93H1611.72V993.58H1614.11V990.9H1616.49V987.47H1618.87V987.95H1621.25V986.08H1623.63V980.18H1626.02V978.13H1628.4V976.61H1630.78V974.89H1633.16V970.61H1635.54V970.1H1637.93V966.44H1640.31V966.42H1642.69V960.7H1645.07V959.75H1647.45V958.78H1649.84V953.82H1652.22V954.07H1654.6V951.24H1656.98V949.16H1659.36V949.36H1661.75V946.16H1664.13V945.43H1666.51V941.36H1668.89V939.3H1671.27V938.79H1673.66V935.37H1676.04V935.14H1678.42V937.17H1680.8V937.44H1683.18V936.82H1685.57V933.26H1687.95V932.5H1690.33V933.03H1692.71V934.94H1695.09V931.51H1697.48V935.04H1699.86V931.6H1702.24V933.77H1704.62V932.75H1707V933.84H1709.39V936.08H1711.77V934.59H1714.15V936.06H1716.53V937.41H1718.91V940.82H1721.3V942.38H1723.68V944.42H1726.06V948.38H1728.44V947.34H1730.82V950.77H1733.21V951.51H1735.59V954.92H1737.97V957H1740.35V957.99H1742.73V961.29H1745.12V963.88H1747.5V964.64H1749.88V969.01H1752.26V971.49H1754.64V976.03H1757.03V981.46H1759.41V987.17H1761.79V990.34H1764.17V993.95H1766.55V995.9H1768.94V999.24H1771.32V1003.49H1773.7V1006.9H1776.08V1009.74H1778.46V1014.39H1780.85V1016.92H1783.23V1022.01H1785.61V1021.86H1787.99V1024.5H1790.37V1027.6H1792.76V1031.95H1795.14V1035.37H1797.52V1037.31H1799.9V1039.31H1802.28V1043.38H1804.67V1044.33H1807.05V1045.93H1809.43V1048.65H1811.81V1051.69H1814.19V1054.92H1816.58V1056.4H1818.96V1058.15H1821.34V1060.5H1823.72V1063.55H1826.1V1066.01H1828.49V1067.71H1830.87V1070.09H1833.25V1071.42H1835.63V1073.17H1838.01V1074.48H1840.4V1075.32H1842.78V1077.35H1845.16V1079.03H1847.54V1080.44H1849.92V1082.29H1852.31V1083.44H1854.69V1084.68H1857.07V1086.02H1859.45V1086.3H1861.83V1087.73H1864.22V1088.86H1866.6V1089.72H1868.98V1090.36H1871.36V1090.47H1873.74V1091.39H1876.13V1091.64H1878.51V1092.46H1880.89V1093.2H1883.27V1094.01H1885.65V1093.98H1888.04V1095.37H1890.42V1095.56H1892.8V1095.44H1895.18V1096.32H1897.56V1096.54H1899.95V1096.44H1902.33V1096.9H1904.71V1096.99H1907.09V1097.06H1909.47V1097.53H1911.86V1097.61H1914.24V1097.54H1916.62V1097.59H1919V1098.03H1921.38V1098.16H1923.77V1098.27H1926.15V1098.39H1928.53V1098.51H1930.91V1098.63H1933.29V1098.75H1935.68V1098.87H1938.06V1098.99H1940.44V1099.11H1942.82V1099.22H1945.2V1099.28H1947.59V1099.35H1949.97V1099.42H1952.35V1099.48H1954.73V1099.55H1957.11V1099.62H1959.5V1099.68H1961.88V1099.75H1964.26V1099.8H2004.75" class="h k"/>
<path d="M1182.96 1099.8H1425.93V1099.77H1428.31V1099.7H1430.69V1099.63H1433.07V1099.57H1435.46V1099.5H1437.84V1099.44H1440.22V1099.37H1442.6V1099.3H1444.98V1099.24H1447.37V1099.15H1449.75V1099.06H1452.13V1098.96H1454.51V1098.86H1456.89V1098.76H1459.28V1098.66H1461.66V1098.57H1464.04V1098.47H1466.42V1098.37H1468.8V1098.27H1471.19V1098.17H1473.57V1098.29H1475.95V1098.26H1478.33V1097.74H1480.71V1097.9H1483.1V1097.82H1485.48V1097.13H1487.86V1097.33H1490.24V1096.98H1492.62V1096.46H1495.01V1096.25H1497.39V1096.6H1499.77V1095.92H1502.15V1095.48H1504.53V1095.81H1506.92V1094.99H1509.3V1094.73H1511.68V1095.07H1514.06V1094.61H1516.44V1094.04H1518.83V1093.8H1521.21V1093.42H1523.59V1093.53H1525.97V1092.11H1528.35V1091.25H1530.74V1090.4H1533.12V1090.09H1535.5V1089.53H1537.88V1088.23H1540.26V1088.76H1542.65V1087.96H1545.03V1086.17H1547.41V1085.61H1549.79V1084.16H1552.17V1083.19H1554.56V1083.05H1556.94V1082.67H1559.32V1081.41H1561.7V1079.15H1564.08V1078.63H1566.47V1078.36H1568.85V1076.31H1571.23V1075.56H1573.61V1073.22H1575.99V1070.85H1578.38V1069.02H1580.76V1067.89H1583.14V1065.81H1585.52V1065.75H1587.9V1062.34H1590.29V1060.06H1592.67V1057.81H1595.05V1056.24H1597.43V1053.47H1599.81V1052.39H1602.2V1049.02H1604.58V1044.38H1606.96V1043.46H1609.34V1038.59H1611.72V1037.53H1614.11V1034.36H1616.49V1031.53H1618.87V1032H1621.25V1029.37H1623.63V1023.64H1626.02V1021.43H1628.4V1019.54H1630.78V1017.9H1633.16V1013.41H1635.54V1012.71H1637.93V1008.83H1640.31V1008.33H1642.69V1002.38H1645.07V1000.98H1647.45V999.47H1649.84V994.55H1652.22V994.4H1654.6V990.59H1656.98V988.18H1659.36V988.09H1661.75V984.64H1664.13V983.41H1666.51V978.46H1668.89V976.71H1671.27V976.04H1673.66V972.2H1676.04V970.85H1678.42V972.46H1680.8V972.23H1683.18V971.18H1685.57V966.81H1687.95V965.41H1690.33V965.02H1692.71V966.19H1695.09V961.89H1697.48V965.55H1699.86V961.47H1702.24V963.62H1704.62V962.03H1707V962.41H1709.39V963.59H1711.77V961.64H1714.15V963.15H1716.53V963.29H1718.91V966.75H1721.3V967.47H1723.68V968.66H1726.06V972.07H1728.44V970.83H1730.82V973.08H1733.21V973.28H1735.59V976.33H1737.97V978.06H1740.35V978.35H1742.73V981.87H1745.12V983.16H1747.5V984.26H1749.88V987.36H1752.26V990.14H1754.64V993.97H1757.03V998.73H1759.41V1003.86H1761.79V1006.43H1764.17V1010.03H1766.55V1011.61H1768.94V1013.85H1771.32V1018.36H1773.7V1021.19H1776.08V1023.52H1778.46V1028.09H1780.85V1029.9H1783.23V1034.65H1785.61V1033.85H1787.99V1036.34H1790.37V1039.08H1792.76V1043.08H1795.14V1045.97H1797.52V1047.9H1799.9V1049.43H1802.28V1053.37H1804.67V1053.82H1807.05V1054.88H1809.43V1057.14H1811.81V1060.13H1814.19V1063.12H1816.58V1064.29H1818.96V1065.25H1821.34V1067.31H1823.72V1069.93H1826.1V1072.34H1828.49V1073.4H1830.87V1075.42H1833.25V1076.42H1835.63V1077.93H1838.01V1079.21H1840.4V1079.72H1842.78V1081.61H1845.16V1083.11H1847.54V1084.07H1849.92V1085.67H1852.31V1086.48H1854.69V1087.77H1857.07V1088.78H1859.45V1088.8H1861.83V1089.97H1864.22V1090.93H1866.6V1091.76H1868.98V1092.16H1871.36V1092.28H1873.74V1092.94H1876.13V1093.02H1878.51V1093.69H1880.89V1094.33H1883.27V1095.05H1885.65V1094.92H1888.04V1096.21H1890.42V1096.31H1892.8V1096.09H1895.18V1096.88H1897.56V1097H1899.95V1096.81H1902.33V1097.23H1904.71V1097.28H1907.09V1097.31H1909.47V1097.73H1911.86V1097.78H1914.24V1097.66H1916.62V1097.66H1919V1098.06H1921.38V1098.16H1923.77V1098.27H1926.15V1098.39H1928.53V1098.51H1930.91V1098.63H1933.29V1098.75H1935.68V1098.87H1938.06V1098.99H1940.44V1099.11H1942.82V1099.22H1945.2V1099.28H1947.59V1099.35H1949.97V1099.42H1952.35V1099.48H1954.73V1099.55H1957.11V1099.62H1959.5V1099.68H1961.88V1099.75H1964.26V1099.8H2004.75" class="h r"/>
<path d="M1182.96 1099.8H1185.35V1099.8H1187.73V1099.75H1190.11V1099.7H1192.49V1099.65H1194.87V1099.6H1197.26V1099.54H1199.64V1099.49H1202.02V1099.44H1204.4V1099.39H1206.78V1099.34H1209.17V1099.29H1211.55V1099.24H1213.93V1099.19H1216.31V1099.14H1218.69V1099.09H1221.08V1099.04H1223.46V1098.99H1225.84V1098.94H1228.22V1098.89H1230.6V1098.84H1232.99V1098.79H1235.37V1098.74H1237.75V1098.69H1240.13V1098.64H1242.51V1098.59H1244.9V1098.53H1247.28V1098.48H1249.66V1098.43H1252.04V1098.38H1254.42V1098.33H1256.81V1098.25H1259.19V1098.18H1261.57V1098.11H1263.95V1098.09H1266.33V1097.88H1268.72V1097.96H1271.1V1097.95H1273.48V1097.75H1275.86V1097.67H1278.24V1097.71H1280.63V1097.69H1283.01V1097.34H1285.39V1097.48H1287.77V1097.25H1290.15V1097.4H1292.54V1097.15H1294.92V1097.15H1297.3V1097.08H1299.68V1096.95H1302.06V1096.94H1304.45V1096.89H1306.83V1096.5H1309.21V1096.47H1311.59V1096.54H1313.97V1096.43H1316.36V1096.17H1318.74V1096.21H1321.12V1095.86H1323.5V1095.82H1325.88V1095.95H1328.27V1095.88H1330.65V1095.48H1333.03V1095.66H1335.41V1095.34H1337.79V1095.04H1340.18V1094.8H1342.56V1094.67H1344.94V1094.29H1347.32V1094.09H1349.7V1094.06H1352.09V1093.45H1354.47V1093.48H1356.85V1093H1359.23V1093.05H1361.61V1092.6H1364V1092.68H1366.38V1092.43H1368.76V1091.7H1371.14V1092.03H1373.52V1091.39H1375.91V1091.23H1378.29V1090.88H1380.67V1090.55H1383.05V1090.15H1385.43V1089.97H1387.82V1089.66H1390.2V1089.45H1392.58V1089.23H1394.96V1088.67H1397.34V1088.47H1399.73V1088.56H1402.11V1088.28H1404.49V1087.68H1406.87V1087.76H1409.25V1086.81H1411.64V1086.45H1414.02V1086.61H1416.4V1085.59H1418.78V1085.2H1421.16V1084.82H1423.55V1084.81H1425.93V1084.57H1428.31V1083.96H1430.69V1083.62H1433.07V1082.89H1435.46V1082.93H1437.84V1081.87H1440.22V1081.95H1442.6V1081.68H1444.98V1080.98H1447.37V1080.49H1449.75V1079.77H1452.13V1079.18H1454.51V1078.66H1456.89V1078.56H1459.28V1077.76H1461.66V1077.84H1464.04V1077.42H1466.42V1076.72H1468.8V1075.76H1471.19V1075.74H1473.57V1075.38H1475.95V1074.82H1478.33V1074.15H1480.71V1073.95H1483.1V1073.56H1485.48V1073.17H1487.86V1072.89H1490.24V1071.83H1492.62V1071.34H1495.01V1071.52H1497.39V1070.9H1499.77V1070.59H1502.15V1069.98H1504.53V1069.7H1506.92V1069.62H1509.3V1069.64H1511.68V1069.01H1514.06V1067.95H1516.44V1067.77H1518.83V1067.73H1521.21V1066.6H1523.59V1066.24H1525.97V1065.77H1528.35V1065.57H1530.74V1064.97H1533.12V1064.93H1535.5V1064.26H1537.88V1063.71H1540.26V1062.68H1542.65V1063.1H1545.03V1061.86H1547.41V1061.64H1549.79V1061.7H1552.17V1060.61H1554.56V1060.5H1556.94V1060.44H1559.32V1060.23H1561.7V1059.06H1564.08V1058.61H1566.47V1058.76H1568.85V1058.74H1571.23V1058.54H1573.61V1058.01H1575.99V1057.97H1578.38V1057.81H1580.76V1057.67H1583.14V1057.11H1585.52V1057.47H1587.9V1056.76H1590.29V1057.41H1592.67V1056.21H1595.05V1056.39H1597.43V1056.06H1599.81V1055.87H1602.2V1055.92H1604.58V1055.99H1606.96V1055.88H1609.34V1056.15H1611.72V1055.85H1614.11V1056.34H1616.49V1055.74H1618.87V1055.74H1621.25V1056.52H1623.63V1056.34H1626.02V1056.51H1628.4V1056.86H1630.78V1056.79H1633.16V1056.99H1635.54V1057.19H1637.93V1057.42H1640.31V1057.9H1642.69V1058.12H1645.07V1058.56H1647.45V1059.11H1649.84V1059.07H1652.22V1059.47H1654.6V1060.45H1656.98V1060.77H1659.36V1061.07H1661.75V1061.32H1664.13V1061.82H1666.51V1062.71H1668.89V1062.38H1671.27V1062.55H1673.66V1062.97H1676.04V1064.09H1678.42V1064.51H1680.8V1065H1683.18V1065.44H1685.57V1066.24H1687.95V1066.89H1690.33V1067.81H1692.71V1068.55H1695.09V1069.42H1697.48V1069.29H1699.86V1069.93H1702.24V1069.96H1704.62V1070.52H1707V1071.23H1709.39V1072.29H1711.77V1072.75H1714.15V1072.71H1716.53V1073.92H1718.91V1073.87H1721.3V1074.7H1723.68V1075.56H1726.06V1076.11H1728.44V1076.31H1730.82V1077.49H1733.21V1078.03H1735.59V1078.39H1737.97V1078.74H1740.35V1079.44H1742.73V1079.22H1745.12V1080.53H1747.5V1080.18H1749.88V1081.44H1752.26V1081.15H1754.64V1081.86H1757.03V1082.53H1759.41V1083.11H1761.79V1083.71H1764.17V1083.72H1766.55V1084.09H1768.94V1085.19H1771.32V1084.94H1773.7V1085.52H1776.08V1086.02H1778.46V1086.1H1780.85V1086.82H1783.23V1087.16H1785.61V1087.81H1787.99V1087.97H1790.37V1088.32H1792.76V1088.68H1795.14V1089.2H1797.52V1089.21H1799.9V1089.68H1802.28V1089.81H1804.67V1090.32H1807.05V1090.85H1809.43V1091.31H1811.81V1091.36H1814.19V1091.6H1816.58V1091.91H1818.96V1092.7H1821.34V1092.99H1823.72V1093.42H1826.1V1093.47H1828.49V1094.12H1830.87V1094.48H1833.25V1094.8H1835.63V1095.04H1838.01V1095.07H1840.4V1095.41H1842.78V1095.54H1845.16V1095.72H1847.54V1096.17H1849.92V1096.42H1852.31V1096.76H1854.69V1096.7H1857.07V1097.04H1859.45V1097.3H1861.83V1097.56H1864.22V1097.72H1866.6V1097.76H1868.98V1098H1871.36V1097.99H1873.74V1098.25H1876.13V1098.42H1878.51V1098.57H1880.89V1098.67H1883.27V1098.77H1885.65V1098.86H1888.04V1098.96H1890.42V1099.05H1892.8V1099.15H1895.18V1099.24H1897.56V1099.34H1899.95V1099.42H1902.33V1099.47H1904.71V1099.51H1907.09V1099.55H1909.47V1099.59H1911.86V1099.64H1914.24V1099.68H1916.62V1099.72H1919V1099.76H1921.38V1099.8H2004.75" class="h b"/>
</g>
<g clip-path="url(#c15)">
<path d="M1182.96 1319.28V1319.28H1232.99V1319.26H1235.37V1319.18H1237.75V1319.1H1240.13V1319.02H1242.51V1318.94H1244.9V1318.86H1247.28V1318.78H1249.66V1318.7H1252.04V1318.62H1254.42V1318.52H1256.81V1318.37H1259.19V1318.23H1261.57V1318.09H1263.95V1317.95H1266.33V1317.8H1268.72V1317.66H1271.1V1317.63H1273.48V1317.36H1275.86V1317.22H1278.24V1317.19H1280.63V1317.1H1283.01V1316.67H1285.39V1316.74H1287.77V1316.44H1290.15V1316.53H1292.54V1316.19H1294.92V1316.13H1297.3V1315.95H1299.68V1315.63H1302.06V1315.46H1304.45V1315.24H1306.83V1314.61H1309.21V1314.41H1311.59V1314.33H1313.97V1314.04H1316.36V1313.56H1318.74V1313.45H1321.12V1312.85H1323.5V1312.64H1325.88V1312.66H1328.27V1312.41H1330.65V1311.74H1333.03V1311.83H1335.41V1311.33H1337.79V1310.85H1340.18V1310.44H1342.56V1310.19H1344.94V1309.61H1347.32V1309.26H1349.7V1309.14H1352.09V1308.26H1354.47V1308.22H1356.85V1307.5H1359.23V1307.47H1361.61V1306.8H1364V1306.82H1366.38V1306.41H1368.76V1305.36H1371.14V1305.71H1373.52V1304.75H1375.91V1304.42H1378.29V1303.84H1380.67V1303.29H1383.05V1302.64H1385.43V1302.28H1387.82V1301.75H1390.2V1301.36H1392.58V1300.94H1394.96V1300.08H1397.34V1299.69H1399.73V1299.7H1402.11V1299.2H1404.49V1298.3H1406.87V1298.27H1409.25V1296.98H1411.64V1296.5H1414.02V1296.7H1416.4V1295.36H1418.78V1294.84H1421.16V1294.33H1423.55V1294.3H1425.93V1293.98H1428.31V1293.16H1430.69V1292.71H1433.07V1291.75H1435.46V1291.78H1437.84V1290.4H1440.22V1290.48H1442.6V1290.11H1444.98V1289.25H1447.37V1288.72H1449.75V1287.85H1452.13V1287.15H1454.51V1286.53H1456.89V1286.45H1459.28V1285.49H1461.66V1285.62H1464.04V1285.12H1466.42V1284.29H1468.8V1283.07H1471.19V1282.92H1473.57V1282.36H1475.95V1281.56H1478.33V1280.5H1480.71V1280.36H1483.1V1279.84H1485.48V1278.8H1487.86V1278.78H1490.24V1277.3H1492.62V1276.32H1495.01V1276.44H1497.39V1276.17H1499.77V1275.24H1502.15V1273.99H1504.53V1273.91H1506.92V1272.88H1509.3V1272.54H1511.68V1272.18H1514.06V1270.53H1516.44V1269.77H1518.83V1269.53H1521.21V1267.89H1523.59V1267.79H1525.97V1265.83H1528.35V1264.81H1530.74V1263.35H1533.12V1263.12H1535.5V1262.06H1537.88V1260.37H1540.26V1260.23H1542.65V1260.09H1545.03V1256.49H1547.41V1255.39H1549.79V1253.55H1552.17V1251.05H1554.56V1250.48H1556.94V1249.62H1559.32V1247.7H1561.7V1243.6H1564.08V1242.38H1566.47V1242.11H1568.85V1239.44H1571.23V1238.1H1573.61V1234.31H1575.99V1231.01H1578.38V1228.29H1580.76V1225.64H1583.14V1221.19H1585.52V1220.25H1587.9V1213.92H1590.29V1210.69H1592.67V1206.33H1595.05V1204.2H1597.43V1200.08H1599.81V1198.33H1602.2V1195.13H1604.58V1190.61H1606.96V1190.66H1609.34V1186.07H1611.72V1185.27H1614.11V1181.72H1616.49V1177.6H1618.87V1178.12H1621.25V1175.49H1623.63V1168.74H1626.02V1166.73H1628.4V1165.29H1630.78V1164.22H1633.16V1160.97H1635.54V1161.81H1637.93V1158.89H1640.31V1160.2H1642.69V1154.69H1645.07V1155.16H1647.45V1155.62H1649.84V1151.63H1652.22V1153.69H1654.6V1152.3H1656.98V1151.31H1659.36V1152.88H1661.75V1150.67H1664.13V1152.62H1666.51V1152.12H1668.89V1154.25H1671.27V1157.78H1673.66V1157.85H1676.04V1161.1H1678.42V1166.69H1680.8V1170.3H1683.18V1173.35H1685.57V1173.59H1687.95V1176.62H1690.33V1180.88H1692.71V1186.86H1695.09V1187.91H1697.48V1195.45H1699.86V1196.48H1702.24V1201.98H1704.62V1204.37H1707V1208.55H1709.39V1213.13H1711.77V1214.92H1714.15V1220.39H1716.53V1225.59H1718.91V1231.5H1721.3V1234.9H1723.68V1238.06H1726.06V1243.39H1728.44V1245.47H1730.82V1250.72H1733.21V1253.96H1735.59V1258.17H1737.97V1261.49H1740.35V1264.1H1742.73V1267.98H1745.12V1270.56H1747.5V1271.79H1749.88V1275.13H1752.26V1276.22H1754.64V1278.52H1757.03V1281.59H1759.41V1284.96H1761.79V1286.89H1764.17V1289.1H1766.55V1290.32H1768.94V1292.14H1771.32V1294.46H1773.7V1296.38H1776.08V1297.96H1778.46V1300.24H1780.85V1301.49H1783.23V1304.07H1785.61V1304.37H1787.99V1305.49H1790.37V1306.64H1792.76V1308.3H1795.14V1309.42H1797.52V1310.18H1799.9V1310.65H1802.28V1312.08H1804.67V1312.26H1807.05V1312.68H1809.43V1313.29H1811.81V1314.16H1814.19V1315.02H1816.58V1315.29H1818.96V1315.45H1821.34V1315.78H1823.72V1316.27H1826.1V1316.67H1828.49V1316.75H1830.87V1317.17H1833.25V1317.31H1835.63V1317.58H1838.01V1317.73H1840.4V1317.88H1842.78V1318.03H1845.16V1318.18H1847.54V1318.31H1849.92V1318.43H1852.31V1318.55H1854.69V1318.67H1857.07V1318.78H1859.45V1318.84H1861.83V1318.89H1864.22V1318.95H1866.6V1319.01H1868.98V1319.06H1871.36V1319.12H1873.74V1319.17H1876.13V1319.23H1878.51V1319.28H2004.75V1319.28Z" fill="#fddcb0"/>
<path d="M1519.6 1099.8L1519.6 1319.28" class="dt"/>
<path d="M1703 1099.8L1703 1319.28" class="dt"/>
<path d="M1632.4 1099.8L1632.4 1319.28" class="md" style="stroke-width:4.6px"/>
<path d="M1182.96 1319.28H1232.99V1319.26H1235.37V1319.18H1237.75V1319.1H1240.13V1319.02H1242.51V1318.94H1244.9V1318.86H1247.28V1318.78H1249.66V1318.7H1252.04V1318.62H1254.42V1318.52H1256.81V1318.37H1259.19V1318.23H1261.57V1318.09H1263.95V1317.95H1266.33V1317.8H1268.72V1317.66H1271.1V1317.63H1273.48V1317.36H1275.86V1317.22H1278.24V1317.19H1280.63V1317.1H1283.01V1316.67H1285.39V1316.74H1287.77V1316.44H1290.15V1316.53H1292.54V1316.19H1294.92V1316.13H1297.3V1315.95H1299.68V1315.63H1302.06V1315.46H1304.45V1315.24H1306.83V1314.61H1309.21V1314.41H1311.59V1314.33H1313.97V1314.04H1316.36V1313.56H1318.74V1313.45H1321.12V1312.85H1323.5V1312.64H1325.88V1312.66H1328.27V1312.41H1330.65V1311.74H1333.03V1311.83H1335.41V1311.33H1337.79V1310.85H1340.18V1310.44H1342.56V1310.19H1344.94V1309.61H1347.32V1309.26H1349.7V1309.14H1352.09V1308.26H1354.47V1308.22H1356.85V1307.5H1359.23V1307.47H1361.61V1306.8H1364V1306.82H1366.38V1306.41H1368.76V1305.36H1371.14V1305.71H1373.52V1304.75H1375.91V1304.42H1378.29V1303.84H1380.67V1303.29H1383.05V1302.64H1385.43V1302.28H1387.82V1301.75H1390.2V1301.36H1392.58V1300.94H1394.96V1300.08H1397.34V1299.69H1399.73V1299.7H1402.11V1299.2H1404.49V1298.3H1406.87V1298.27H1409.25V1296.98H1411.64V1296.5H1414.02V1296.7H1416.4V1295.36H1418.78V1294.84H1421.16V1294.33H1423.55V1294.3H1425.93V1293.98H1428.31V1293.16H1430.69V1292.71H1433.07V1291.75H1435.46V1291.78H1437.84V1290.4H1440.22V1290.48H1442.6V1290.11H1444.98V1289.25H1447.37V1288.72H1449.75V1287.85H1452.13V1287.15H1454.51V1286.53H1456.89V1286.45H1459.28V1285.49H1461.66V1285.62H1464.04V1285.12H1466.42V1284.29H1468.8V1283.07H1471.19V1282.92H1473.57V1282.36H1475.95V1281.56H1478.33V1280.5H1480.71V1280.36H1483.1V1279.84H1485.48V1278.8H1487.86V1278.78H1490.24V1277.3H1492.62V1276.32H1495.01V1276.44H1497.39V1276.17H1499.77V1275.24H1502.15V1273.99H1504.53V1273.91H1506.92V1272.88H1509.3V1272.54H1511.68V1272.18H1514.06V1270.53H1516.44V1269.77H1518.83V1269.53H1521.21V1267.89H1523.59V1267.79H1525.97V1265.83H1528.35V1264.81H1530.74V1263.35H1533.12V1263.12H1535.5V1262.06H1537.88V1260.37H1540.26V1260.23H1542.65V1260.09H1545.03V1256.49H1547.41V1255.39H1549.79V1253.55H1552.17V1251.05H1554.56V1250.48H1556.94V1249.62H1559.32V1247.7H1561.7V1243.6H1564.08V1242.38H1566.47V1242.11H1568.85V1239.44H1571.23V1238.1H1573.61V1234.31H1575.99V1231.01H1578.38V1228.29H1580.76V1225.64H1583.14V1221.19H1585.52V1220.25H1587.9V1213.92H1590.29V1210.69H1592.67V1206.33H1595.05V1204.2H1597.43V1200.08H1599.81V1198.33H1602.2V1195.13H1604.58V1190.61H1606.96V1190.66H1609.34V1186.07H1611.72V1185.27H1614.11V1181.72H1616.49V1177.6H1618.87V1178.12H1621.25V1175.49H1623.63V1168.74H1626.02V1166.73H1628.4V1165.29H1630.78V1164.22H1633.16V1160.97H1635.54V1161.81H1637.93V1158.89H1640.31V1160.2H1642.69V1154.69H1645.07V1155.16H1647.45V1155.62H1649.84V1151.63H1652.22V1153.69H1654.6V1152.3H1656.98V1151.31H1659.36V1152.88H1661.75V1150.67H1664.13V1152.62H1666.51V1152.12H1668.89V1154.25H1671.27V1157.78H1673.66V1157.85H1676.04V1161.1H1678.42V1166.69H1680.8V1170.3H1683.18V1173.35H1685.57V1173.59H1687.95V1176.62H1690.33V1180.88H1692.71V1186.86H1695.09V1187.91H1697.48V1195.45H1699.86V1196.48H1702.24V1201.98H1704.62V1204.37H1707V1208.55H1709.39V1213.13H1711.77V1214.92H1714.15V1220.39H1716.53V1225.59H1718.91V1231.5H1721.3V1234.9H1723.68V1238.06H1726.06V1243.39H1728.44V1245.47H1730.82V1250.72H1733.21V1253.96H1735.59V1258.17H1737.97V1261.49H1740.35V1264.1H1742.73V1267.98H1745.12V1270.56H1747.5V1271.79H1749.88V1275.13H1752.26V1276.22H1754.64V1278.52H1757.03V1281.59H1759.41V1284.96H1761.79V1286.89H1764.17V1289.1H1766.55V1290.32H1768.94V1292.14H1771.32V1294.46H1773.7V1296.38H1776.08V1297.96H1778.46V1300.24H1780.85V1301.49H1783.23V1304.07H1785.61V1304.37H1787.99V1305.49H1790.37V1306.64H1792.76V1308.3H1795.14V1309.42H1797.52V1310.18H1799.9V1310.65H1802.28V1312.08H1804.67V1312.26H1807.05V1312.68H1809.43V1313.29H1811.81V1314.16H1814.19V1315.02H1816.58V1315.29H1818.96V1315.45H1821.34V1315.78H1823.72V1316.27H1826.1V1316.67H1828.49V1316.75H1830.87V1317.17H1833.25V1317.31H1835.63V1317.58H1838.01V1317.73H1840.4V1317.88H1842.78V1318.03H1845.16V1318.18H1847.54V1318.31H1849.92V1318.43H1852.31V1318.55H1854.69V1318.67H1857.07V1318.78H1859.45V1318.84H1861.83V1318.89H1864.22V1318.95H1866.6V1319.01H1868.98V1319.06H1871.36V1319.12H1873.74V1319.17H1876.13V1319.23H1878.51V1319.28H2004.75" class="h k"/>
<path d="M1182.96 1319.28H1447.37V1319.24H1449.75V1319.16H1452.13V1319.08H1454.51V1319H1456.89V1318.92H1459.28V1318.84H1461.66V1318.76H1464.04V1318.68H1466.42V1318.6H1468.8V1318.44H1471.19V1318.22H1473.57V1318H1475.95V1317.78H1478.33V1317.43H1480.71V1317.44H1483.1V1317.29H1485.48V1316.61H1487.86V1316.82H1490.24V1316.49H1492.62V1315.99H1495.01V1315.79H1497.39V1316.15H1499.77V1315.48H1502.15V1314.84H1504.53V1315H1506.92V1313.96H1509.3V1313.51H1511.68V1313.7H1514.06V1313.03H1516.44V1312.24H1518.83V1311.81H1521.21V1311.21H1523.59V1311.19H1525.97V1309.44H1528.35V1308.32H1530.74V1307.21H1533.12V1306.72H1535.5V1305.94H1537.88V1304.32H1540.26V1304.79H1542.65V1303.67H1545.03V1300.89H1547.41V1299.52H1549.79V1297.11H1552.17V1295.26H1554.56V1294.41H1556.94V1293.29H1559.32V1291.19H1561.7V1287.9H1564.08V1286.73H1566.47V1285.9H1568.85V1282.84H1571.23V1281.3H1573.61V1277.64H1575.99V1273.94H1578.38V1270.91H1580.76V1267.96H1583.14V1263.62H1585.52V1261.88H1587.9V1255.8H1590.29V1251.49H1592.67V1247.86H1595.05V1245.11H1597.43V1240.8H1599.81V1238.68H1602.2V1234.89H1604.58V1229.76H1606.96V1229.37H1609.34V1223.99H1611.72V1223.01H1614.11V1218.7H1616.49V1214.81H1618.87V1215.01H1621.25V1211.35H1623.63V1204.45H1626.02V1201.97H1628.4V1199.89H1630.78V1198.53H1633.16V1194.67H1635.54V1195.01H1637.93V1191.55H1640.31V1192.11H1642.69V1186.07H1645.07V1185.81H1647.45V1185.46H1649.84V1181.19H1652.22V1182.66H1654.6V1180.19H1656.98V1178.67H1659.36V1179.74H1661.75V1177.07H1664.13V1178.35H1666.51V1176.78H1668.89V1178.8H1671.27V1181.83H1673.66V1181.2H1676.04V1183.19H1678.42V1188.21H1680.8V1191.31H1683.18V1193.96H1685.57V1193.53H1687.95V1196.01H1690.33V1199.5H1692.71V1204.71H1695.09V1204.89H1697.48V1212.31H1699.86V1212.65H1702.24V1217.9H1704.62V1219.66H1707V1223.09H1709.39V1226.74H1711.77V1228.03H1714.15V1233.35H1716.53V1237.56H1718.91V1243.4H1721.3V1246.13H1723.68V1248.62H1726.06V1253.47H1728.44V1255.3H1730.82V1259.59H1733.21V1262.31H1735.59V1266.21H1737.97V1269.22H1740.35V1271.31H1742.73V1275.21H1745.12V1276.92H1747.5V1278.24H1749.88V1280.75H1752.26V1281.96H1754.64V1283.84H1757.03V1286.51H1759.41V1289.52H1761.79V1291.1H1764.17V1293.25H1766.55V1294.22H1768.94V1295.51H1771.32V1297.97H1773.7V1299.57H1776.08V1300.87H1778.46V1303.07H1780.85V1303.95H1783.23V1306.33H1785.61V1306.35H1787.99V1307.42H1790.37V1308.44H1792.76V1309.97H1795.14V1311.02H1797.52V1311.65H1799.9V1311.99H1802.28V1313.29H1804.67V1313.35H1807.05V1313.67H1809.43V1314.19H1811.81V1314.96H1814.19V1315.73H1816.58V1315.91H1818.96V1315.97H1821.34V1316.2H1823.72V1316.6H1826.1V1316.94H1828.49V1316.99H1830.87V1317.38H1833.25V1317.48H1835.63V1317.72H1838.01V1317.84H1840.4V1317.96H1842.78V1318.07H1845.16V1318.19H1847.54V1318.31H1849.92V1318.43H1852.31V1318.55H1854.69V1318.67H1857.07V1318.78H1859.45V1318.84H1861.83V1318.89H1864.22V1318.95H1866.6V1319.01H1868.98V1319.06H1871.36V1319.12H1873.74V1319.17H1876.13V1319.23H1878.51V1319.28H2004.75" class="h r"/>
<path d="M1182.96 1319.28H1232.99V1319.26H1235.37V1319.18H1237.75V1319.1H1240.13V1319.02H1242.51V1318.94H1244.9V1318.86H1247.28V1318.78H1249.66V1318.7H1252.04V1318.62H1254.42V1318.52H1256.81V1318.37H1259.19V1318.23H1261.57V1318.09H1263.95V1317.95H1266.33V1317.8H1268.72V1317.66H1271.1V1317.63H1273.48V1317.36H1275.86V1317.22H1278.24V1317.19H1280.63V1317.1H1283.01V1316.67H1285.39V1316.74H1287.77V1316.44H1290.15V1316.53H1292.54V1316.19H1294.92V1316.13H1297.3V1315.95H1299.68V1315.63H1302.06V1315.46H1304.45V1315.24H1306.83V1314.61H1309.21V1314.41H1311.59V1314.33H1313.97V1314.04H1316.36V1313.56H1318.74V1313.45H1321.12V1312.85H1323.5V1312.64H1325.88V1312.66H1328.27V1312.41H1330.65V1311.74H1333.03V1311.83H1335.41V1311.33H1337.79V1310.85H1340.18V1310.44H1342.56V1310.19H1344.94V1309.61H1347.32V1309.26H1349.7V1309.14H1352.09V1308.26H1354.47V1308.22H1356.85V1307.5H1359.23V1307.47H1361.61V1306.8H1364V1306.82H1366.38V1306.41H1368.76V1305.36H1371.14V1305.71H1373.52V1304.75H1375.91V1304.42H1378.29V1303.84H1380.67V1303.29H1383.05V1302.64H1385.43V1302.28H1387.82V1301.75H1390.2V1301.36H1392.58V1300.94H1394.96V1300.08H1397.34V1299.69H1399.73V1299.7H1402.11V1299.2H1404.49V1298.3H1406.87V1298.27H1409.25V1296.98H1411.64V1296.5H1414.02V1296.7H1416.4V1295.36H1418.78V1294.84H1421.16V1294.33H1423.55V1294.3H1425.93V1293.98H1428.31V1293.16H1430.69V1292.71H1433.07V1291.75H1435.46V1291.78H1437.84V1290.4H1440.22V1290.48H1442.6V1290.11H1444.98V1289.25H1447.37V1288.76H1449.75V1287.97H1452.13V1287.35H1454.51V1286.81H1456.89V1286.81H1459.28V1285.93H1461.66V1286.14H1464.04V1285.72H1466.42V1284.97H1468.8V1283.9H1471.19V1283.98H1473.57V1283.64H1475.95V1283.06H1478.33V1282.35H1480.71V1282.2H1483.1V1281.83H1485.48V1281.48H1487.86V1281.24H1490.24V1280.09H1492.62V1279.61H1495.01V1279.93H1497.39V1279.3H1499.77V1279.04H1502.15V1278.43H1504.53V1278.19H1506.92V1278.2H1509.3V1278.31H1511.68V1277.76H1514.06V1276.78H1516.44V1276.82H1518.83V1277.01H1521.21V1275.96H1523.59V1275.88H1525.97V1275.67H1528.35V1275.77H1530.74V1275.41H1533.12V1275.68H1535.5V1275.4H1537.88V1275.33H1540.26V1274.72H1542.65V1275.7H1545.03V1274.87H1547.41V1275.14H1549.79V1275.72H1552.17V1275.07H1554.56V1275.35H1556.94V1275.61H1559.32V1275.79H1561.7V1274.98H1564.08V1274.93H1566.47V1275.49H1568.85V1275.88H1571.23V1276.08H1573.61V1275.95H1575.99V1276.35H1578.38V1276.65H1580.76V1276.96H1583.14V1276.85H1585.52V1277.66H1587.9V1277.4H1590.29V1278.48H1592.67V1277.75H1595.05V1278.37H1597.43V1278.56H1599.81V1278.93H1602.2V1279.52H1604.58V1280.13H1606.96V1280.57H1609.34V1281.36H1611.72V1281.54H1614.11V1282.31H1616.49V1282.07H1618.87V1282.39H1621.25V1283.41H1623.63V1283.57H1626.02V1284.04H1628.4V1284.68H1630.78V1284.97H1633.16V1285.57H1635.54V1286.08H1637.93V1286.62H1640.31V1287.37H1642.69V1287.9H1645.07V1288.62H1647.45V1289.44H1649.84V1289.72H1652.22V1290.31H1654.6V1291.39H1656.98V1291.91H1659.36V1292.42H1661.75V1292.88H1664.13V1293.55H1666.51V1294.63H1668.89V1294.72H1671.27V1295.23H1673.66V1295.93H1676.04V1297.19H1678.42V1297.76H1680.8V1298.27H1683.18V1298.68H1685.57V1299.34H1687.95V1299.89H1690.33V1300.66H1692.71V1301.43H1695.09V1302.3H1697.48V1302.42H1699.86V1303.11H1702.24V1303.36H1704.62V1303.99H1707V1304.74H1709.39V1305.67H1711.77V1306.16H1714.15V1306.32H1716.53V1307.31H1718.91V1307.38H1721.3V1308.05H1723.68V1308.72H1726.06V1309.2H1728.44V1309.45H1730.82V1310.41H1733.21V1310.93H1735.59V1311.25H1737.97V1311.55H1740.35V1312.07H1742.73V1312.05H1745.12V1312.92H1747.5V1312.83H1749.88V1313.66H1752.26V1313.53H1754.64V1313.96H1757.03V1314.36H1759.41V1314.71H1761.79V1315.07H1764.17V1315.13H1766.55V1315.38H1768.94V1315.91H1771.32V1315.77H1773.7V1316.08H1776.08V1316.36H1778.46V1316.44H1780.85V1316.81H1783.23V1317.02H1785.61V1317.3H1787.99V1317.34H1790.37V1317.47H1792.76V1317.61H1795.14V1317.68H1797.52V1317.81H1799.9V1317.94H1802.28V1318.08H1804.67V1318.19H1807.05V1318.28H1809.43V1318.38H1811.81V1318.47H1814.19V1318.57H1816.58V1318.66H1818.96V1318.76H1821.34V1318.85H1823.72V1318.95H1826.1V1319.01H1828.49V1319.04H1830.87V1319.07H1833.25V1319.11H1835.63V1319.14H1838.01V1319.17H1840.4V1319.2H1842.78V1319.23H1845.16V1319.27H1847.54V1319.28H2004.75" class="h b"/>
</g>
<g clip-path="url(#c16)">
<path d="M1177.96 1538.76V1538.76H1570.94V1538.35H1586.98V1537.71H1595V1536.85H1603.02V1535.37H1611.04V1532.59H1619.06V1528.96H1627.08V1522.54H1635.1V1522.11H1643.12V1512.28H1651.14V1508H1659.16V1509.07H1667.18V1501.15H1675.2V1494.74H1683.22V1481.91H1691.24V1462.66H1699.26V1456.89H1707.28V1441.92H1715.3V1429.51H1723.32V1416.68H1731.34V1377.76H1739.36V1421.39H1747.38V1409.84H1755.4V1368.99H1763.42V1379.26H1771.44V1422.03H1779.46V1392.73H1787.48V1429.51H1795.5V1431.01H1803.52V1425.23H1811.54V1447.69H1819.56V1461.59H1827.58V1461.8H1835.6V1468.43H1843.62V1483.62H1851.64V1490.46H1859.66V1501.8H1867.68V1509.71H1875.7V1510.78H1883.72V1522.11H1891.74V1523.4H1899.76V1528.96H1907.78V1531.74H1915.8V1533.66H1923.82V1534.94H1931.84V1536.42H1939.86V1537.28H1947.88V1537.92H1963.92V1538.76H2012.04V1538.76Z" fill="#fddcb0"/>
<path d="M1703 1319.28L1703 1538.76" class="dt"/>
<path d="M1822.3 1319.28L1822.3 1538.76" class="dt"/>
<path d="M1760.3 1319.28L1760.3 1538.76" class="md"/>
<path d="M1177.96 1538.76H1570.94V1538.35H1586.98V1537.71H1595V1536.85H1603.02V1535.37H1611.04V1532.59H1619.06V1528.96H1627.08V1522.54H1635.1V1522.11H1643.12V1512.28H1651.14V1508H1659.16V1509.07H1667.18V1501.15H1675.2V1494.74H1683.22V1481.91H1691.24V1462.66H1699.26V1456.89H1707.28V1441.92H1715.3V1429.51H1723.32V1416.68H1731.34V1377.76H1739.36V1421.39H1747.38V1409.84H1755.4V1368.99H1763.42V1379.26H1771.44V1422.03H1779.46V1392.73H1787.48V1429.51H1795.5V1431.01H1803.52V1425.23H1811.54V1447.69H1819.56V1461.59H1827.58V1461.8H1835.6V1468.43H1843.62V1483.62H1851.64V1490.46H1859.66V1501.8H1867.68V1509.71H1875.7V1510.78H1883.72V1522.11H1891.74V1523.4H1899.76V1528.96H1907.78V1531.74H1915.8V1533.66H1923.82V1534.94H1931.84V1536.42H1939.86V1537.28H1947.88V1537.92H1963.92V1538.76H2012.04" class="h k"/>
<path d="M1177.96 1538.76H1570.94V1538.35H1586.98V1537.71H1595V1536.85H1603.02V1536H1611.04V1534.93H1619.06V1532.79H1627.08V1527.44H1643.12V1516.75H1651.14V1514.61H1659.16V1515.68H1667.18V1510.33H1675.2V1503.92H1683.22V1490.02H1691.24V1475.05H1699.26V1470.77H1707.28V1454.3H1715.3V1441.9H1723.32V1433.34H1731.34V1395.92H1739.36V1436.55H1747.38V1423.72H1755.4V1382.02H1763.42V1394.85H1771.44V1436.55H1779.46V1408.75H1787.48V1441.9H1795.5V1444.47H1803.52V1438.69H1811.54V1460.08H1819.56V1469.7H1827.58V1471.41H1835.6V1475.05H1843.62V1491.09H1851.64V1496.43H1859.66V1507.13H1867.68V1514.61H1883.72V1524.88H1891.74V1525.73H1899.76V1530.65H1907.78V1532.79H1915.8V1534.29H1923.82V1535.57H1931.84V1536.42H1939.86V1537.28H1947.88V1537.92H1963.92V1538.76H2012.04" class="h r"/>
<path d="M1177.96 1538.76H1603.02V1538.14H1611.04V1536.42H1619.06V1534.93H1627.08V1533.86H1635.1V1533.43H1643.12V1534.29H1651.14V1532.15H1667.18V1529.58H1683.22V1530.65H1691.24V1526.37H1699.26V1524.88H1707.28V1526.37H1723.32V1522.1H1731.34V1520.6H1739.36V1523.59H1747.38V1524.88H1755.4V1525.73H1763.42V1523.17H1771.44V1524.23H1779.46V1522.74H1787.48V1526.37H1795.5V1525.3H1811.54V1526.37H1819.56V1530.65H1827.58V1529.15H1835.6V1532.15H1843.62V1531.29H1851.64V1532.79H1859.66V1533.43H1867.68V1533.86H1875.7V1534.93H1883.72V1536H1891.74V1536.42H1899.76V1537.07H1907.78V1537.71H1915.8V1538.14H1931.84V1538.76H2012.04" class="h b"/>
</g>
<g clip-path="url(#c17)">
<path d="M1177.96 1758.24V1758.24H1570.94V1757.71H1586.98V1756.85H1595V1756H1603.02V1753.97H1611.04V1751.19H1619.06V1747.34H1627.08V1741.56H1635.1V1738.78H1643.12V1728.52H1651.14V1722.1H1659.16V1720.82H1667.18V1713.55H1675.2V1706.06H1683.22V1695.37H1691.24V1679.33H1699.26V1668.21H1707.28V1647.89H1715.3V1634.63H1723.32V1620.09H1731.34V1605.12H1739.36V1633.35H1747.38V1619.02H1755.4V1588.01H1763.42V1591.65H1771.44V1633.99H1779.46V1610.9H1787.48V1634.63H1795.5V1637.84H1803.52V1639.77H1811.54V1657.52H1819.56V1668.21H1827.58V1675.05H1835.6V1680.61H1843.62V1698.79H1851.64V1708.2H1859.66V1715.9H1867.68V1728.09H1875.7V1731.73H1883.72V1740.07H1891.74V1741.99H1899.76V1747.34H1907.78V1750.55H1915.8V1752.68H1923.82V1754.18H1931.84V1755.74H1939.86V1756.6H1947.88V1757.28H1963.92V1758.2H1979.96V1758.24H2012.04V1758.24Z" fill="#fddcb0"/>
<path d="M1702.3 1538.76L1702.3 1758.24" class="dt"/>
<path d="M1823.4 1538.76L1823.4 1758.24" class="dt"/>
<path d="M1760.3 1538.76L1760.3 1758.24" class="md"/>
<path d="M1177.96 1758.24H1570.94V1757.71H1586.98V1756.85H1595V1756H1603.02V1753.97H1611.04V1751.19H1619.06V1747.34H1627.08V1741.56H1635.1V1738.78H1643.12V1728.52H1651.14V1722.1H1659.16V1720.82H1667.18V1713.55H1675.2V1706.06H1683.22V1695.37H1691.24V1679.33H1699.26V1668.21H1707.28V1647.89H1715.3V1634.63H1723.32V1620.09H1731.34V1605.12H1739.36V1633.35H1747.38V1619.02H1755.4V1588.01H1763.42V1591.65H1771.44V1633.99H1779.46V1610.9H1787.48V1634.63H1795.5V1637.84H1803.52V1639.77H1811.54V1657.52H1819.56V1668.21H1827.58V1675.05H1835.6V1680.61H1843.62V1698.79H1851.64V1708.2H1859.66V1715.9H1867.68V1728.09H1875.7V1731.73H1883.72V1740.07H1891.74V1741.99H1899.76V1747.34H1907.78V1750.55H1915.8V1752.68H1923.82V1754.18H1931.84V1755.74H1939.86V1756.6H1947.88V1757.28H1963.92V1758.2H1979.96V1758.24H2012.04" class="h k"/>
<path d="M1177.96 1758.24H1570.94V1757.71H1586.98V1756.85H1595V1756H1603.02V1755.14H1611.04V1753.86H1619.06V1751.72H1627.08V1746.37H1635.1V1744.23H1643.12V1734.61H1651.14V1730.33H1659.16V1729.91H1667.18V1723.92H1675.2V1716.43H1683.22V1705.74H1691.24V1691.84H1699.26V1684.35H1707.28V1662.97H1715.3V1650.78H1723.32V1638.37H1731.34V1625.54H1739.36V1650.14H1747.38V1634.1H1755.4V1603.09H1763.42V1608.43H1771.44V1648H1779.46V1627.68H1787.48V1650.14H1795.5V1650.78H1803.52V1652.28H1811.54V1669.38H1819.56V1676.87H1827.58V1683.28H1835.6V1687.56H1843.62V1705.74H1851.64V1714.29H1859.66V1721.35H1867.68V1732.47H1875.7V1735.04H1883.72V1742.74H1891.74V1744.23H1899.76V1749.15H1907.78V1751.72H1915.8V1753.43H1923.82V1754.93H1931.84V1755.78H1939.86V1756.64H1947.88V1757.28H1963.92V1758.2H1979.96V1758.24H2012.04" class="h r"/>
<path d="M1177.96 1758.24H1603.02V1757.07H1611.04V1755.57H1619.06V1753.86H1627.08V1753.43H1635.1V1752.79H1643.12V1752.15H1651.14V1750.01H1659.16V1749.15H1667.18V1747.87H1691.24V1745.73H1699.26V1742.1H1707.28V1743.17H1715.3V1742.1H1723.32V1739.96H1731.34V1737.82H1739.36V1741.45H1747.38V1743.17H1763.42V1741.45H1771.44V1744.23H1779.46V1741.45H1787.48V1742.74H1795.5V1745.3H1803.52V1745.73H1811.54V1746.37H1819.56V1749.58H1827.58V1750.01H1835.6V1751.29H1851.64V1752.15H1859.66V1752.79H1867.68V1753.86H1875.7V1754.93H1883.72V1755.57H1891.74V1756H1899.76V1756.42H1907.78V1757.07H1915.8V1757.49H1931.84V1758.2H1947.88V1758.24H2012.04" class="h b"/>
</g>
<path d="M289.67 2.4V18M352.07 2.4V18M396.34 2.4V18M430.68 2.4V18M458.74 2.4V18M482.46 2.4V18M503.01 2.4V18M521.14 2.4V18M537.35 2.4V34.6M644.02 2.4V18M706.42 2.4V18M750.69 2.4V18M785.03 2.4V18M813.09 2.4V18M836.81 2.4V18M857.36 2.4V18M875.49 2.4V18M891.7 2.4V34.6M289.67 204.98V237.48M352.07 204.98V237.48M396.34 204.98V237.48M430.68 204.98V237.48M458.74 204.98V237.48M482.46 204.98V237.48M503.01 204.98V237.48M521.14 204.98V237.48M537.35 188.58V254.08M644.02 204.98V237.48M706.42 204.98V237.48M750.69 204.98V237.48M785.03 204.98V237.48M813.09 204.98V237.48M836.81 204.98V237.48M857.36 204.98V237.48M875.49 204.98V237.48M891.7 188.58V254.08M289.67 424.46V456.96M352.07 424.46V456.96M396.34 424.46V456.96M430.68 424.46V456.96M458.74 424.46V456.96M482.46 424.46V456.96M503.01 424.46V456.96M521.14 424.46V456.96M537.35 408.06V473.56M644.02 424.46V456.96M706.42 424.46V456.96M750.69 424.46V456.96M785.03 424.46V456.96M813.09 424.46V456.96M836.81 424.46V456.96M857.36 424.46V456.96M875.49 424.46V456.96M891.7 408.06V473.56M289.67 643.94V676.44M352.07 643.94V676.44M396.34 643.94V676.44M430.68 643.94V676.44M458.74 643.94V676.44M482.46 643.94V676.44M503.01 643.94V676.44M521.14 643.94V676.44M537.35 627.54V693.04M644.02 643.94V676.44M706.42 643.94V676.44M750.69 643.94V676.44M785.03 643.94V676.44M813.09 643.94V676.44M836.81 643.94V676.44M857.36 643.94V676.44M875.49 643.94V676.44M891.7 627.54V693.04M289.67 863.42V895.92M352.07 863.42V895.92M396.34 863.42V895.92M430.68 863.42V895.92M458.74 863.42V895.92M482.46 863.42V895.92M503.01 863.42V895.92M521.14 863.42V895.92M537.35 847.02V912.52M644.02 863.42V895.92M706.42 863.42V895.92M750.69 863.42V895.92M785.03 863.42V895.92M813.09 863.42V895.92M836.81 863.42V895.92M857.36 863.42V895.92M875.49 863.42V895.92M891.7 847.02V912.52M289.67 1082.9V1115.4M352.07 1082.9V1115.4M396.34 1082.9V1115.4M430.68 1082.9V1115.4M458.74 1082.9V1115.4M482.46 1082.9V1115.4M503.01 1082.9V1115.4M521.14 1082.9V1115.4M537.35 1066.5V1132M644.02 1082.9V1115.4M706.42 1082.9V1115.4M750.69 1082.9V1115.4M785.03 1082.9V1115.4M813.09 1082.9V1115.4M836.81 1082.9V1115.4M857.36 1082.9V1115.4M875.49 1082.9V1115.4M891.7 1066.5V1132M289.67 1302.38V1334.88M352.07 1302.38V1334.88M396.34 1302.38V1334.88M430.68 1302.38V1334.88M458.74 1302.38V1334.88M482.46 1302.38V1334.88M503.01 1302.38V1334.88M521.14 1302.38V1334.88M537.35 1285.98V1351.48M644.02 1302.38V1334.88M706.42 1302.38V1334.88M750.69 1302.38V1334.88M785.03 1302.38V1334.88M813.09 1302.38V1334.88M836.81 1302.38V1334.88M857.36 1302.38V1334.88M875.49 1302.38V1334.88M891.7 1285.98V1351.48M289.67 1521.86V1554.36M352.07 1521.86V1554.36M396.34 1521.86V1554.36M430.68 1521.86V1554.36M458.74 1521.86V1554.36M482.46 1521.86V1554.36M503.01 1521.86V1554.36M521.14 1521.86V1554.36M537.35 1505.46V1570.96M644.02 1521.86V1554.36M706.42 1521.86V1554.36M750.69 1521.86V1554.36M785.03 1521.86V1554.36M813.09 1521.86V1554.36M836.81 1521.86V1554.36M857.36 1521.86V1554.36M875.49 1521.86V1554.36M891.7 1505.46V1570.96M289.67 1741.34V1758.24M352.07 1741.34V1758.24M396.34 1741.34V1758.24M430.68 1741.34V1758.24M458.74 1741.34V1758.24M482.46 1741.34V1758.24M503.01 1741.34V1758.24M521.14 1741.34V1758.24M537.35 1724.94V1758.24M644.02 1741.34V1758.24M706.42 1741.34V1758.24M750.69 1741.34V1758.24M785.03 1741.34V1758.24M813.09 1741.34V1758.24M836.81 1741.34V1758.24M857.36 1741.34V1758.24M875.49 1741.34V1758.24M891.7 1724.94V1758.24" class="fr tx"/>
<path d="M181.4 2.1H999.6M181.4 221.88H999.6M181.4 441.36H999.6M181.4 660.84H999.6M181.4 880.32H999.6M181.4 1099.8H999.6M181.4 1319.28H999.6M181.4 1538.76H999.6M181.4 1758.24H999.6M183 204.93h16.7M998 204.93h-16.7M183 187.98h16.7M998 187.98h-16.7M183 171.03h16.7M998 171.03h-16.7M183 154.08h16.7M998 154.08h-16.7M183 137.13h32.3M998 137.13h-32.3M183 120.18h16.7M998 120.18h-16.7M183 103.23h16.7M998 103.23h-16.7M183 86.28h16.7M998 86.28h-16.7M183 69.33h16.7M998 69.33h-16.7M183 52.38h32.3M998 52.38h-32.3M183 35.43h16.7M998 35.43h-16.7M183 18.48h16.7M998 18.48h-16.7M183 424.41h16.7M998 424.41h-16.7M183 407.46h16.7M998 407.46h-16.7M183 390.51h16.7M998 390.51h-16.7M183 373.56h16.7M998 373.56h-16.7M183 356.61h32.3M998 356.61h-32.3M183 339.66h16.7M998 339.66h-16.7M183 322.71h16.7M998 322.71h-16.7M183 305.76h16.7M998 305.76h-16.7M183 288.81h16.7M998 288.81h-16.7M183 271.86h32.3M998 271.86h-32.3M183 254.91h16.7M998 254.91h-16.7M183 237.96h16.7M998 237.96h-16.7M183 643.89h16.7M998 643.89h-16.7M183 626.94h16.7M998 626.94h-16.7M183 609.99h16.7M998 609.99h-16.7M183 593.04h16.7M998 593.04h-16.7M183 576.09h32.3M998 576.09h-32.3M183 559.14h16.7M998 559.14h-16.7M183 542.19h16.7M998 542.19h-16.7M183 525.24h16.7M998 525.24h-16.7M183 508.29h16.7M998 508.29h-16.7M183 491.34h32.3M998 491.34h-32.3M183 474.39h16.7M998 474.39h-16.7M183 457.44h16.7M998 457.44h-16.7M183 863.37h16.7M998 863.37h-16.7M183 846.42h16.7M998 846.42h-16.7M183 829.47h16.7M998 829.47h-16.7M183 812.52h16.7M998 812.52h-16.7M183 795.57h32.3M998 795.57h-32.3M183 778.62h16.7M998 778.62h-16.7M183 761.67h16.7M998 761.67h-16.7M183 744.72h16.7M998 744.72h-16.7M183 727.77h16.7M998 727.77h-16.7M183 710.82h32.3M998 710.82h-32.3M183 693.87h16.7M998 693.87h-16.7M183 676.92h16.7M998 676.92h-16.7M183 1082.85h16.7M998 1082.85h-16.7M183 1065.9h16.7M998 1065.9h-16.7M183 1048.95h16.7M998 1048.95h-16.7M183 1032h16.7M998 1032h-16.7M183 1015.05h32.3M998 1015.05h-32.3M183 998.1h16.7M998 998.1h-16.7M183 981.15h16.7M998 981.15h-16.7M183 964.2h16.7M998 964.2h-16.7M183 947.25h16.7M998 947.25h-16.7M183 930.3h32.3M998 930.3h-32.3M183 913.35h16.7M998 913.35h-16.7M183 896.4h16.7M998 896.4h-16.7M183 1302.33h16.7M998 1302.33h-16.7M183 1285.38h16.7M998 1285.38h-16.7M183 1268.43h16.7M998 1268.43h-16.7M183 1251.48h16.7M998 1251.48h-16.7M183 1234.53h32.3M998 1234.53h-32.3M183 1217.58h16.7M998 1217.58h-16.7M183 1200.63h16.7M998 1200.63h-16.7M183 1183.68h16.7M998 1183.68h-16.7M183 1166.73h16.7M998 1166.73h-16.7M183 1149.78h32.3M998 1149.78h-32.3M183 1132.83h16.7M998 1132.83h-16.7M183 1115.88h16.7M998 1115.88h-16.7M183 1521.81h16.7M998 1521.81h-16.7M183 1504.86h16.7M998 1504.86h-16.7M183 1487.91h16.7M998 1487.91h-16.7M183 1470.96h16.7M998 1470.96h-16.7M183 1454.01h32.3M998 1454.01h-32.3M183 1437.06h16.7M998 1437.06h-16.7M183 1420.11h16.7M998 1420.11h-16.7M183 1403.16h16.7M998 1403.16h-16.7M183 1386.21h16.7M998 1386.21h-16.7M183 1369.26h32.3M998 1369.26h-32.3M183 1352.31h16.7M998 1352.31h-16.7M183 1335.36h16.7M998 1335.36h-16.7M183 1741.29h16.7M998 1741.29h-16.7M183 1724.34h16.7M998 1724.34h-16.7M183 1707.39h16.7M998 1707.39h-16.7M183 1690.44h16.7M998 1690.44h-16.7M183 1673.49h32.3M998 1673.49h-32.3M183 1656.54h16.7M998 1656.54h-16.7M183 1639.59h16.7M998 1639.59h-16.7M183 1622.64h16.7M998 1622.64h-16.7M183 1605.69h16.7M998 1605.69h-16.7M183 1588.74h32.3M998 1588.74h-32.3M183 1571.79h16.7M998 1571.79h-16.7M183 1554.84h16.7M998 1554.84h-16.7" class="fr"/>
<path d="M183 0.6V1760.04M998 0.6V1760.04" class="fr fv"/>
<text transform="translate(155.8 238.88) scale(1.0300 1)" class="tk" text-anchor="end">0</text>
<text transform="translate(155.8 154.13) scale(1.0300 1)" class="tk" text-anchor="end">0.5</text>
<text transform="translate(155.8 69.38) scale(1.0300 1)" class="tk" text-anchor="end">1</text>
<text transform="translate(155.8 458.36) scale(1.0300 1)" class="tk" text-anchor="end">0</text>
<text transform="translate(155.8 373.61) scale(1.0300 1)" class="tk" text-anchor="end">0.5</text>
<text transform="translate(155.8 288.86) scale(1.0300 1)" class="tk" text-anchor="end">1</text>
<text transform="translate(155.8 677.84) scale(1.0300 1)" class="tk" text-anchor="end">0</text>
<text transform="translate(155.8 593.09) scale(1.0300 1)" class="tk" text-anchor="end">0.5</text>
<text transform="translate(155.8 508.34) scale(1.0300 1)" class="tk" text-anchor="end">1</text>
<text transform="translate(155.8 897.32) scale(1.0300 1)" class="tk" text-anchor="end">0</text>
<text transform="translate(155.8 812.57) scale(1.0300 1)" class="tk" text-anchor="end">0.5</text>
<text transform="translate(155.8 727.82) scale(1.0300 1)" class="tk" text-anchor="end">1</text>
<text transform="translate(155.8 1116.8) scale(1.0300 1)" class="tk" text-anchor="end">0</text>
<text transform="translate(155.8 1032.05) scale(1.0300 1)" class="tk" text-anchor="end">0.5</text>
<text transform="translate(155.8 947.3) scale(1.0300 1)" class="tk" text-anchor="end">1</text>
<text transform="translate(155.8 1336.28) scale(1.0300 1)" class="tk" text-anchor="end">0</text>
<text transform="translate(155.8 1251.53) scale(1.0300 1)" class="tk" text-anchor="end">0.5</text>
<text transform="translate(155.8 1166.78) scale(1.0300 1)" class="tk" text-anchor="end">1</text>
<text transform="translate(155.8 1555.76) scale(1.0300 1)" class="tk" text-anchor="end">0</text>
<text transform="translate(155.8 1471.01) scale(1.0300 1)" class="tk" text-anchor="end">0.5</text>
<text transform="translate(155.8 1386.26) scale(1.0300 1)" class="tk" text-anchor="end">1</text>
<text transform="translate(155.8 1775.24) scale(1.0300 1)" class="tk" text-anchor="end">0</text>
<text transform="translate(155.8 1690.49) scale(1.0300 1)" class="tk" text-anchor="end">0.5</text>
<text transform="translate(155.8 1605.74) scale(1.0300 1)" class="tk" text-anchor="end">1</text>
<text transform="translate(181.8 1819.04) scale(1.0300 1)" class="tk" text-anchor="middle">0.01</text>
<text transform="translate(536.15 1819.04) scale(1.0300 1)" class="tk" text-anchor="middle">0.1</text>
<text transform="translate(892.7 1819.04) scale(1.0300 1)" class="tk" text-anchor="middle">1</text>
<path d="M1223.41 2.4V18M1260.46 2.4V18M1297.52 2.4V18M1334.58 2.4V34.6M1371.64 2.4V18M1408.69 2.4V18M1445.75 2.4V18M1482.81 2.4V34.6M1519.87 2.4V18M1556.92 2.4V18M1593.98 2.4V18M1631.04 2.4V34.6M1668.1 2.4V18M1705.15 2.4V18M1742.21 2.4V18M1779.27 2.4V34.6M1816.33 2.4V18M1853.38 2.4V18M1890.44 2.4V18M1927.5 2.4V34.6M1964.56 2.4V18M1223.41 204.98V237.48M1260.46 204.98V237.48M1297.52 204.98V237.48M1334.58 188.58V254.08M1371.64 204.98V237.48M1408.69 204.98V237.48M1445.75 204.98V237.48M1482.81 188.58V254.08M1519.87 204.98V237.48M1556.92 204.98V237.48M1593.98 204.98V237.48M1631.04 188.58V254.08M1668.1 204.98V237.48M1705.15 204.98V237.48M1742.21 204.98V237.48M1779.27 188.58V254.08M1816.33 204.98V237.48M1853.38 204.98V237.48M1890.44 204.98V237.48M1927.5 188.58V254.08M1964.56 204.98V237.48M1223.41 424.46V456.96M1260.46 424.46V456.96M1297.52 424.46V456.96M1334.58 408.06V473.56M1371.64 424.46V456.96M1408.69 424.46V456.96M1445.75 424.46V456.96M1482.81 408.06V473.56M1519.87 424.46V456.96M1556.92 424.46V456.96M1593.98 424.46V456.96M1631.04 408.06V473.56M1668.1 424.46V456.96M1705.15 424.46V456.96M1742.21 424.46V456.96M1779.27 408.06V473.56M1816.33 424.46V456.96M1853.38 424.46V456.96M1890.44 424.46V456.96M1927.5 408.06V473.56M1964.56 424.46V456.96M1223.41 643.94V676.44M1260.46 643.94V676.44M1297.52 643.94V676.44M1334.58 627.54V693.04M1371.64 643.94V676.44M1408.69 643.94V676.44M1445.75 643.94V676.44M1482.81 627.54V693.04M1519.87 643.94V676.44M1556.92 643.94V676.44M1593.98 643.94V676.44M1631.04 627.54V693.04M1668.1 643.94V676.44M1705.15 643.94V676.44M1742.21 643.94V676.44M1779.27 627.54V693.04M1816.33 643.94V676.44M1853.38 643.94V676.44M1890.44 643.94V676.44M1927.5 627.54V693.04M1964.56 643.94V676.44M1223.41 863.42V895.92M1260.46 863.42V895.92M1297.52 863.42V895.92M1334.58 847.02V912.52M1371.64 863.42V895.92M1408.69 863.42V895.92M1445.75 863.42V895.92M1482.81 847.02V912.52M1519.87 863.42V895.92M1556.92 863.42V895.92M1593.98 863.42V895.92M1631.04 847.02V912.52M1668.1 863.42V895.92M1705.15 863.42V895.92M1742.21 863.42V895.92M1779.27 847.02V912.52M1816.33 863.42V895.92M1853.38 863.42V895.92M1890.44 863.42V895.92M1927.5 847.02V912.52M1964.56 863.42V895.92M1223.41 1082.9V1115.4M1260.46 1082.9V1115.4M1297.52 1082.9V1115.4M1334.58 1066.5V1132M1371.64 1082.9V1115.4M1408.69 1082.9V1115.4M1445.75 1082.9V1115.4M1482.81 1066.5V1132M1519.87 1082.9V1115.4M1556.92 1082.9V1115.4M1593.98 1082.9V1115.4M1631.04 1066.5V1132M1668.1 1082.9V1115.4M1705.15 1082.9V1115.4M1742.21 1082.9V1115.4M1779.27 1066.5V1132M1816.33 1082.9V1115.4M1853.38 1082.9V1115.4M1890.44 1082.9V1115.4M1927.5 1066.5V1132M1964.56 1082.9V1115.4M1223.41 1302.38V1334.88M1260.46 1302.38V1334.88M1297.52 1302.38V1334.88M1334.58 1285.98V1351.48M1371.64 1302.38V1334.88M1408.69 1302.38V1334.88M1445.75 1302.38V1334.88M1482.81 1285.98V1351.48M1519.87 1302.38V1334.88M1556.92 1302.38V1334.88M1593.98 1302.38V1334.88M1631.04 1285.98V1351.48M1668.1 1302.38V1334.88M1705.15 1302.38V1334.88M1742.21 1302.38V1334.88M1779.27 1285.98V1351.48M1816.33 1302.38V1334.88M1853.38 1302.38V1334.88M1890.44 1302.38V1334.88M1927.5 1285.98V1351.48M1964.56 1302.38V1334.88M1223.41 1521.86V1554.36M1260.46 1521.86V1554.36M1297.52 1521.86V1554.36M1334.58 1505.46V1570.96M1371.64 1521.86V1554.36M1408.69 1521.86V1554.36M1445.75 1521.86V1554.36M1482.81 1505.46V1570.96M1519.87 1521.86V1554.36M1556.92 1521.86V1554.36M1593.98 1521.86V1554.36M1631.04 1505.46V1570.96M1668.1 1521.86V1554.36M1705.15 1521.86V1554.36M1742.21 1521.86V1554.36M1779.27 1505.46V1570.96M1816.33 1521.86V1554.36M1853.38 1521.86V1554.36M1890.44 1521.86V1554.36M1927.5 1505.46V1570.96M1964.56 1521.86V1554.36M1223.41 1741.34V1758.24M1260.46 1741.34V1758.24M1297.52 1741.34V1758.24M1334.58 1724.94V1758.24M1371.64 1741.34V1758.24M1408.69 1741.34V1758.24M1445.75 1741.34V1758.24M1482.81 1724.94V1758.24M1519.87 1741.34V1758.24M1556.92 1741.34V1758.24M1593.98 1741.34V1758.24M1631.04 1724.94V1758.24M1668.1 1741.34V1758.24M1705.15 1741.34V1758.24M1742.21 1741.34V1758.24M1779.27 1724.94V1758.24M1816.33 1741.34V1758.24M1853.38 1741.34V1758.24M1890.44 1741.34V1758.24M1927.5 1724.94V1758.24M1964.56 1741.34V1758.24" class="fr tx"/>
<path d="M1184.75 2.1H2003.3M1184.75 221.88H2003.3M1184.75 441.36H2003.3M1184.75 660.84H2003.3M1184.75 880.32H2003.3M1184.75 1099.8H2003.3M1184.75 1319.28H2003.3M1184.75 1538.76H2003.3M1184.75 1758.24H2003.3M1186.35 204.93h16.7M2001.7 204.93h-16.7M1186.35 187.98h16.7M2001.7 187.98h-16.7M1186.35 171.03h16.7M2001.7 171.03h-16.7M1186.35 154.08h16.7M2001.7 154.08h-16.7M1186.35 137.13h32.3M2001.7 137.13h-32.3M1186.35 120.18h16.7M2001.7 120.18h-16.7M1186.35 103.23h16.7M2001.7 103.23h-16.7M1186.35 86.28h16.7M2001.7 86.28h-16.7M1186.35 69.33h16.7M2001.7 69.33h-16.7M1186.35 52.38h32.3M2001.7 52.38h-32.3M1186.35 35.43h16.7M2001.7 35.43h-16.7M1186.35 18.48h16.7M2001.7 18.48h-16.7M1186.35 424.41h16.7M2001.7 424.41h-16.7M1186.35 407.46h16.7M2001.7 407.46h-16.7M1186.35 390.51h16.7M2001.7 390.51h-16.7M1186.35 373.56h16.7M2001.7 373.56h-16.7M1186.35 356.61h32.3M2001.7 356.61h-32.3M1186.35 339.66h16.7M2001.7 339.66h-16.7M1186.35 322.71h16.7M2001.7 322.71h-16.7M1186.35 305.76h16.7M2001.7 305.76h-16.7M1186.35 288.81h16.7M2001.7 288.81h-16.7M1186.35 271.86h32.3M2001.7 271.86h-32.3M1186.35 254.91h16.7M2001.7 254.91h-16.7M1186.35 237.96h16.7M2001.7 237.96h-16.7M1186.35 643.89h16.7M2001.7 643.89h-16.7M1186.35 626.94h16.7M2001.7 626.94h-16.7M1186.35 609.99h16.7M2001.7 609.99h-16.7M1186.35 593.04h16.7M2001.7 593.04h-16.7M1186.35 576.09h32.3M2001.7 576.09h-32.3M1186.35 559.14h16.7M2001.7 559.14h-16.7M1186.35 542.19h16.7M2001.7 542.19h-16.7M1186.35 525.24h16.7M2001.7 525.24h-16.7M1186.35 508.29h16.7M2001.7 508.29h-16.7M1186.35 491.34h32.3M2001.7 491.34h-32.3M1186.35 474.39h16.7M2001.7 474.39h-16.7M1186.35 457.44h16.7M2001.7 457.44h-16.7M1186.35 863.37h16.7M2001.7 863.37h-16.7M1186.35 846.42h16.7M2001.7 846.42h-16.7M1186.35 829.47h16.7M2001.7 829.47h-16.7M1186.35 812.52h16.7M2001.7 812.52h-16.7M1186.35 795.57h32.3M2001.7 795.57h-32.3M1186.35 778.62h16.7M2001.7 778.62h-16.7M1186.35 761.67h16.7M2001.7 761.67h-16.7M1186.35 744.72h16.7M2001.7 744.72h-16.7M1186.35 727.77h16.7M2001.7 727.77h-16.7M1186.35 710.82h32.3M2001.7 710.82h-32.3M1186.35 693.87h16.7M2001.7 693.87h-16.7M1186.35 676.92h16.7M2001.7 676.92h-16.7M1186.35 1082.85h16.7M2001.7 1082.85h-16.7M1186.35 1065.9h16.7M2001.7 1065.9h-16.7M1186.35 1048.95h16.7M2001.7 1048.95h-16.7M1186.35 1032h16.7M2001.7 1032h-16.7M1186.35 1015.05h32.3M2001.7 1015.05h-32.3M1186.35 998.1h16.7M2001.7 998.1h-16.7M1186.35 981.15h16.7M2001.7 981.15h-16.7M1186.35 964.2h16.7M2001.7 964.2h-16.7M1186.35 947.25h16.7M2001.7 947.25h-16.7M1186.35 930.3h32.3M2001.7 930.3h-32.3M1186.35 913.35h16.7M2001.7 913.35h-16.7M1186.35 896.4h16.7M2001.7 896.4h-16.7M1186.35 1302.33h16.7M2001.7 1302.33h-16.7M1186.35 1285.38h16.7M2001.7 1285.38h-16.7M1186.35 1268.43h16.7M2001.7 1268.43h-16.7M1186.35 1251.48h16.7M2001.7 1251.48h-16.7M1186.35 1234.53h32.3M2001.7 1234.53h-32.3M1186.35 1217.58h16.7M2001.7 1217.58h-16.7M1186.35 1200.63h16.7M2001.7 1200.63h-16.7M1186.35 1183.68h16.7M2001.7 1183.68h-16.7M1186.35 1166.73h16.7M2001.7 1166.73h-16.7M1186.35 1149.78h32.3M2001.7 1149.78h-32.3M1186.35 1132.83h16.7M2001.7 1132.83h-16.7M1186.35 1115.88h16.7M2001.7 1115.88h-16.7M1186.35 1521.81h16.7M2001.7 1521.81h-16.7M1186.35 1504.86h16.7M2001.7 1504.86h-16.7M1186.35 1487.91h16.7M2001.7 1487.91h-16.7M1186.35 1470.96h16.7M2001.7 1470.96h-16.7M1186.35 1454.01h32.3M2001.7 1454.01h-32.3M1186.35 1437.06h16.7M2001.7 1437.06h-16.7M1186.35 1420.11h16.7M2001.7 1420.11h-16.7M1186.35 1403.16h16.7M2001.7 1403.16h-16.7M1186.35 1386.21h16.7M2001.7 1386.21h-16.7M1186.35 1369.26h32.3M2001.7 1369.26h-32.3M1186.35 1352.31h16.7M2001.7 1352.31h-16.7M1186.35 1335.36h16.7M2001.7 1335.36h-16.7M1186.35 1741.29h16.7M2001.7 1741.29h-16.7M1186.35 1724.34h16.7M2001.7 1724.34h-16.7M1186.35 1707.39h16.7M2001.7 1707.39h-16.7M1186.35 1690.44h16.7M2001.7 1690.44h-16.7M1186.35 1673.49h32.3M2001.7 1673.49h-32.3M1186.35 1656.54h16.7M2001.7 1656.54h-16.7M1186.35 1639.59h16.7M2001.7 1639.59h-16.7M1186.35 1622.64h16.7M2001.7 1622.64h-16.7M1186.35 1605.69h16.7M2001.7 1605.69h-16.7M1186.35 1588.74h32.3M2001.7 1588.74h-32.3M1186.35 1571.79h16.7M2001.7 1571.79h-16.7M1186.35 1554.84h16.7M2001.7 1554.84h-16.7" class="fr"/>
<path d="M1186.35 0.6V1760.04M2001.7 0.6V1760.04" class="fr fv"/>
<text transform="translate(1159.15 238.88) scale(1.0300 1)" class="tk" text-anchor="end">0</text>
<text transform="translate(1159.15 154.13) scale(1.0300 1)" class="tk" text-anchor="end">0.5</text>
<text transform="translate(1159.15 69.38) scale(1.0300 1)" class="tk" text-anchor="end">1</text>
<text transform="translate(1159.15 458.36) scale(1.0300 1)" class="tk" text-anchor="end">0</text>
<text transform="translate(1159.15 373.61) scale(1.0300 1)" class="tk" text-anchor="end">0.5</text>
<text transform="translate(1159.15 288.86) scale(1.0300 1)" class="tk" text-anchor="end">1</text>
<text transform="translate(1159.15 677.84) scale(1.0300 1)" class="tk" text-anchor="end">0</text>
<text transform="translate(1159.15 593.09) scale(1.0300 1)" class="tk" text-anchor="end">0.5</text>
<text transform="translate(1159.15 508.34) scale(1.0300 1)" class="tk" text-anchor="end">1</text>
<text transform="translate(1159.15 897.32) scale(1.0300 1)" class="tk" text-anchor="end">0</text>
<text transform="translate(1159.15 812.57) scale(1.0300 1)" class="tk" text-anchor="end">0.5</text>
<text transform="translate(1159.15 727.82) scale(1.0300 1)" class="tk" text-anchor="end">1</text>
<text transform="translate(1159.15 1116.8) scale(1.0300 1)" class="tk" text-anchor="end">0</text>
<text transform="translate(1159.15 1032.05) scale(1.0300 1)" class="tk" text-anchor="end">0.5</text>
<text transform="translate(1159.15 947.3) scale(1.0300 1)" class="tk" text-anchor="end">1</text>
<text transform="translate(1159.15 1336.28) scale(1.0300 1)" class="tk" text-anchor="end">0</text>
<text transform="translate(1159.15 1251.53) scale(1.0300 1)" class="tk" text-anchor="end">0.5</text>
<text transform="translate(1159.15 1166.78) scale(1.0300 1)" class="tk" text-anchor="end">1</text>
<text transform="translate(1159.15 1555.76) scale(1.0300 1)" class="tk" text-anchor="end">0</text>
<text transform="translate(1159.15 1471.01) scale(1.0300 1)" class="tk" text-anchor="end">0.5</text>
<text transform="translate(1159.15 1386.26) scale(1.0300 1)" class="tk" text-anchor="end">1</text>
<text transform="translate(1159.15 1775.24) scale(1.0300 1)" class="tk" text-anchor="end">0</text>
<text transform="translate(1159.15 1690.49) scale(1.0300 1)" class="tk" text-anchor="end">0.5</text>
<text transform="translate(1159.15 1605.74) scale(1.0300 1)" class="tk" text-anchor="end">1</text>
<text transform="translate(1186.35 1819.04) scale(1.0300 1)" class="tk" text-anchor="middle">0</text>
<text transform="translate(1334.58 1819.04) scale(1.0300 1)" class="tk" text-anchor="middle">2</text>
<text transform="translate(1482.81 1819.04) scale(1.0300 1)" class="tk" text-anchor="middle">4</text>
<text transform="translate(1631.04 1819.04) scale(1.0300 1)" class="tk" text-anchor="middle">6</text>
<text transform="translate(1779.27 1819.04) scale(1.0300 1)" class="tk" text-anchor="middle">8</text>
<text transform="translate(1928.5 1819.04) scale(1.0300 1)" class="tk" text-anchor="middle">10</text>
<text x="222.1" y="65" class="lb"><tspan textLength="202.6" lengthAdjust="spacingAndGlyphs">OB171275</tspan><tspan textLength="261.9" lengthAdjust="spacingAndGlyphs">(inner(+,+))</tspan></text>
<text x="222.1" y="284.48" class="lb"><tspan textLength="202.6" lengthAdjust="spacingAndGlyphs">OB171275</tspan><tspan textLength="261.9" lengthAdjust="spacingAndGlyphs">(outer(+,+))</tspan></text>
<text x="222.1" y="503.96" class="lb"><tspan textLength="202.6" lengthAdjust="spacingAndGlyphs">OB171275</tspan><tspan textLength="261.9" lengthAdjust="spacingAndGlyphs">(inner(−,−))</tspan></text>
<text x="222.1" y="723.44" class="lb"><tspan textLength="202.6" lengthAdjust="spacingAndGlyphs">OB171275</tspan><tspan textLength="261.9" lengthAdjust="spacingAndGlyphs">(outer(−,−))</tspan></text>
<text x="222.1" y="944.12" class="lb"><tspan textLength="203.6" lengthAdjust="spacingAndGlyphs">OB170640</tspan></text>
<text x="222.1" y="1163.6" class="lb"><tspan textLength="203.6" lengthAdjust="spacingAndGlyphs">OB171237</tspan></text>
<text x="574.9" y="1383.08" class="lb"><tspan textLength="202.6" lengthAdjust="spacingAndGlyphs">OB171777</tspan><tspan textLength="188.3" lengthAdjust="spacingAndGlyphs">(Local 1)</tspan></text>
<text x="574.9" y="1602.56" class="lb"><tspan textLength="202.6" lengthAdjust="spacingAndGlyphs">OB171777</tspan><tspan textLength="188.3" lengthAdjust="spacingAndGlyphs">(Local 2)</tspan></text>
<text x="1226" y="65" class="lb"><tspan textLength="202.6" lengthAdjust="spacingAndGlyphs">OB171275</tspan><tspan textLength="261.9" lengthAdjust="spacingAndGlyphs">(inner(+,+))</tspan></text>
<text x="1226" y="284.48" class="lb"><tspan textLength="202.6" lengthAdjust="spacingAndGlyphs">OB171275</tspan><tspan textLength="261.9" lengthAdjust="spacingAndGlyphs">(outer(+,+))</tspan></text>
<text x="1226" y="503.96" class="lb"><tspan textLength="202.6" lengthAdjust="spacingAndGlyphs">OB171275</tspan><tspan textLength="261.9" lengthAdjust="spacingAndGlyphs">(inner(−,−))</tspan></text>
<text x="1226" y="723.44" class="lb"><tspan textLength="202.6" lengthAdjust="spacingAndGlyphs">OB171275</tspan><tspan textLength="261.9" lengthAdjust="spacingAndGlyphs">(outer(−,−))</tspan></text>
<text x="1226" y="944.12" class="lb"><tspan textLength="203.6" lengthAdjust="spacingAndGlyphs">OB170640</tspan></text>
<text x="1226" y="1163.6" class="lb"><tspan textLength="203.6" lengthAdjust="spacingAndGlyphs">OB171237</tspan></text>
<text x="1226" y="1383.08" class="lb"><tspan textLength="202.6" lengthAdjust="spacingAndGlyphs">OB171777</tspan><tspan textLength="188.3" lengthAdjust="spacingAndGlyphs">(Local 1)</tspan></text>
<text x="1226" y="1602.56" class="lb"><tspan textLength="202.6" lengthAdjust="spacingAndGlyphs">OB171777</tspan><tspan textLength="188.3" lengthAdjust="spacingAndGlyphs">(Local 2)</tspan></text>
<text x="223" y="116.2" class="lb" textLength="101.48" lengthAdjust="spacingAndGlyphs">Total</text>
<text x="222" y="157.5" class="lb lr" textLength="113.00" lengthAdjust="spacingAndGlyphs">Bulge</text>
<text x="222" y="198.6" class="lb lu" textLength="83.85" lengthAdjust="spacingAndGlyphs">Disk</text>
<text transform="translate(37.3 1803.3) rotate(-90)" class="ax" textLength="313.02" lengthAdjust="spacingAndGlyphs">Distribution</text>
<text class="ax"><tspan class="it" x="469.5" y="1897.4" textLength="37.69" lengthAdjust="spacingAndGlyphs">M</tspan><tspan class="sb" x="512.5" y="1913.8" textLength="62.31" lengthAdjust="spacingAndGlyphs">host</tspan> <tspan class="br" x="602" y="1901.2">[</tspan><tspan class="it" x="620.7" y="1897.4" textLength="37.69" lengthAdjust="spacingAndGlyphs">M</tspan><tspan class="sun" x="660.2" y="1912.2">⊙</tspan><tspan class="br" x="687.3" y="1901.2">]</tspan></text>
<text class="ax"><tspan class="it" x="1486.5" y="1897.4" textLength="29.51" lengthAdjust="spacingAndGlyphs">D</tspan><tspan class="sb" x="1523.2" y="1913.8" textLength="17.71" lengthAdjust="spacingAndGlyphs">L</tspan> <tspan class="br" x="1563" y="1901.2">[</tspan><tspan class="ax" x="1587" y="1897.6" textLength="89.32" lengthAdjust="spacingAndGlyphs">kpc</tspan><tspan class="br" x="1677.4" y="1901.2">]</tspan></text>
</svg>
</body>
</html>
